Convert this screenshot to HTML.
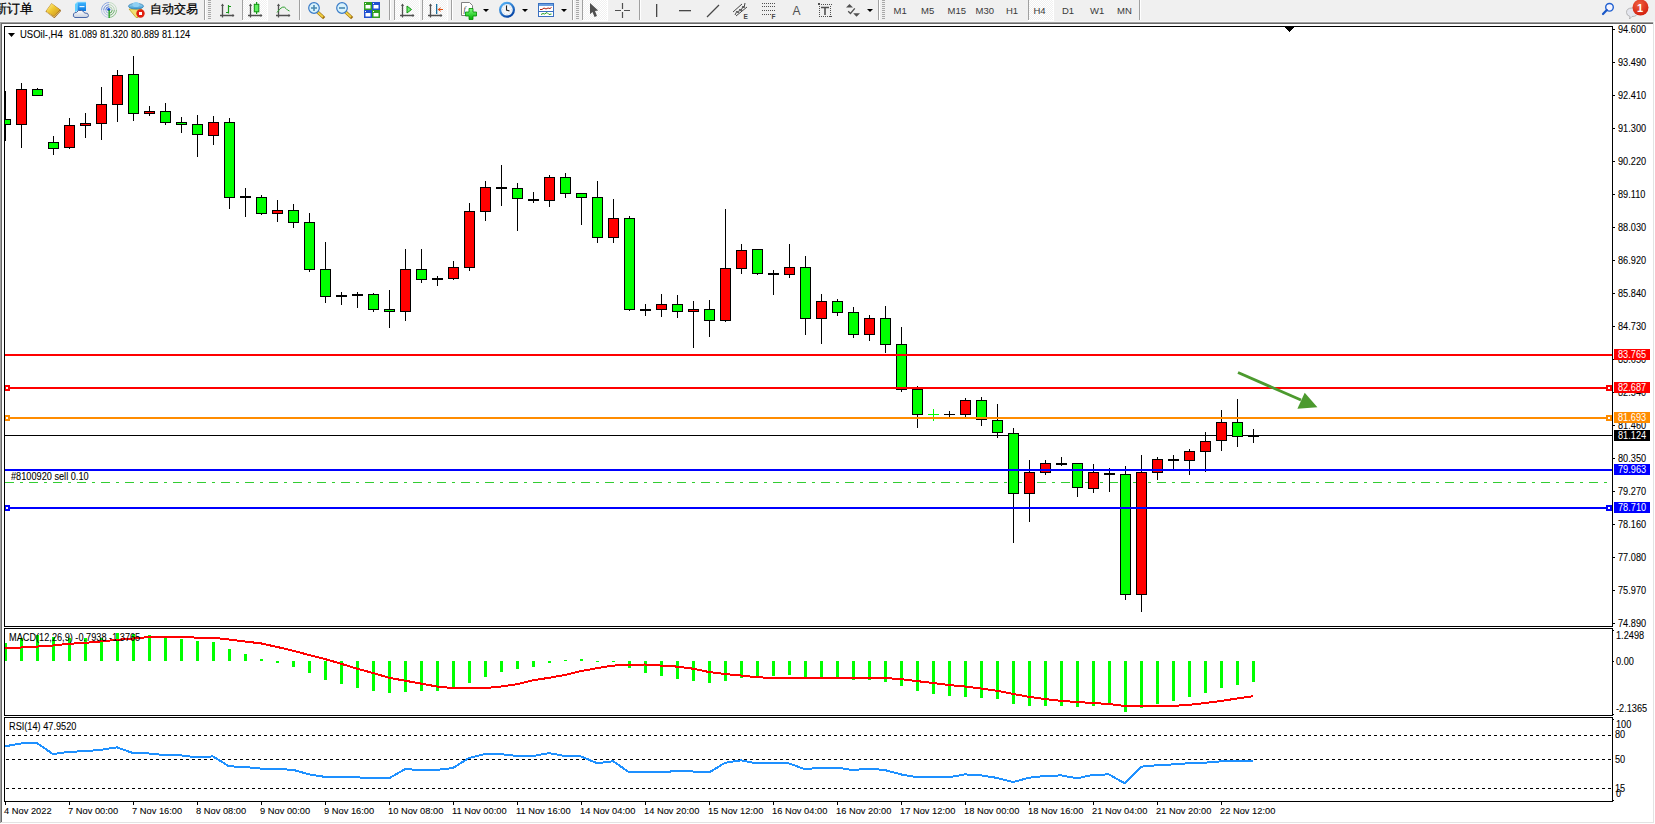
<!DOCTYPE html>
<html><head><meta charset="utf-8"><style>
html,body{margin:0;padding:0;width:1655px;height:824px;overflow:hidden;background:#f0f0f0;position:relative;font-family:'Liberation Sans',sans-serif;}
</style></head><body>
<svg width="1655" height="22" style="position:absolute;left:0;top:0"><defs><pattern id="chk" width="2" height="2" patternUnits="userSpaceOnUse"><rect width="2" height="2" fill="#f0f0f0"/><rect width="1" height="1" fill="#fff"/><rect x="1" y="1" width="1" height="1" fill="#fff"/></pattern><linearGradient id="gold" x1="0" y1="0" x2="1" y2="1"><stop offset="0" stop-color="#fff4a8"/><stop offset="0.45" stop-color="#f0c830"/><stop offset="1" stop-color="#c89020"/></linearGradient><linearGradient id="cube" x1="0" y1="0" x2="0" y2="1"><stop offset="0" stop-color="#40b8ff"/><stop offset="1" stop-color="#0a78e0"/></linearGradient><linearGradient id="cloud" x1="0" y1="0" x2="0" y2="1"><stop offset="0" stop-color="#ffffff"/><stop offset="1" stop-color="#c8d0e0"/></linearGradient><linearGradient id="hat" x1="0" y1="0" x2="0" y2="1"><stop offset="0" stop-color="#a8dcf8"/><stop offset="1" stop-color="#3898d0"/></linearGradient><linearGradient id="plus" x1="0" y1="0" x2="0" y2="1"><stop offset="0" stop-color="#80ff80"/><stop offset="1" stop-color="#00b000"/></linearGradient><linearGradient id="clk" x1="0" y1="0" x2="0.6" y2="1"><stop offset="0" stop-color="#5ab8fa"/><stop offset="1" stop-color="#0848a8"/></linearGradient><radialGradient id="badge" cx="0.4" cy="0.3" r="0.8"><stop offset="0" stop-color="#f06040"/><stop offset="1" stop-color="#d01808"/></radialGradient></defs><rect width="1655" height="22" fill="#f0f0f0"/><rect y="21" width="1655" height="1" fill="#f7f7f7"/><text x="-6" y="13" font-size="13" fill="#000" stroke="#000" stroke-width="0.25" style="font-family:'Liberation Sans',sans-serif">新订单</text><path d="M45.5,11.5 Q48,8 51.5,3.2 L60.5,9.8 Q61.2,10.6 60.6,11.6 L55,17.6 Q54.3,18.2 53.4,17.6 Z" fill="#9a6010"/><path d="M46,11.2 Q48.5,7.8 51.6,3.6 L60,9.8 L54.2,16.2 Z" fill="url(#gold)"/><path d="M47,12.2 L54,17 L60.2,11" fill="none" stroke="#f0d890" stroke-width="0.7"/><path d="M75,4 L77.5,2 L77.5,11 L75,12 Z" fill="#60d0ff"/><path d="M77.5,2 L86,2 L86,11 L77.5,11 Z" fill="url(#cube)"/><path d="M75,4 L77.5,2 H86" fill="none" stroke="#b0e8ff" stroke-width="0.8"/><rect x="79.5" y="6" width="5" height="1.2" fill="#e8f6ff"/><path d="M75,17.5 Q72.5,17 73.5,14 Q74.5,12 76.5,12.5 Q78,9.5 81.5,10.5 Q84,11 84.5,13 Q88.5,12.5 88.5,15.5 Q88.5,17.5 86,17.5 Z" fill="url(#cloud)" stroke="#4a68a8" stroke-width="1"/><path d="M101.5,10 A7.5,7.5 0 0 1 109,2.5" fill="none" stroke="#3a6ad0" stroke-width="1" opacity="0.55"/><path d="M101.5,10 A7.5,7.5 0 0 0 109,17.5" fill="none" stroke="#6a8ad8" stroke-width="1" opacity="0.385"/><path d="M109,2.5 A7.5,7.5 0 0 1 116.5,10" fill="none" stroke="#7ab87a" stroke-width="1" opacity="0.385"/><path d="M116.5,10 A7.5,7.5 0 0 1 109,17.5" fill="none" stroke="#3a9a3a" stroke-width="1" opacity="0.55"/><path d="M103.7,10 A5.3,5.3 0 0 1 109,4.7" fill="none" stroke="#3a6ad0" stroke-width="1" opacity="0.7"/><path d="M103.7,10 A5.3,5.3 0 0 0 109,15.3" fill="none" stroke="#6a8ad8" stroke-width="1" opacity="0.48999999999999994"/><path d="M109,4.7 A5.3,5.3 0 0 1 114.3,10" fill="none" stroke="#7ab87a" stroke-width="1" opacity="0.48999999999999994"/><path d="M114.3,10 A5.3,5.3 0 0 1 109,15.3" fill="none" stroke="#3a9a3a" stroke-width="1" opacity="0.7"/><path d="M105.8,10 A3.2,3.2 0 0 1 109,6.8" fill="none" stroke="#3a6ad0" stroke-width="1" opacity="0.85"/><path d="M105.8,10 A3.2,3.2 0 0 0 109,13.2" fill="none" stroke="#6a8ad8" stroke-width="1" opacity="0.595"/><path d="M109,6.8 A3.2,3.2 0 0 1 112.2,10" fill="none" stroke="#7ab87a" stroke-width="1" opacity="0.595"/><path d="M112.2,10 A3.2,3.2 0 0 1 109,13.2" fill="none" stroke="#3a9a3a" stroke-width="1" opacity="0.85"/><circle cx="108.8" cy="9.6" r="1.6" fill="#2050d0"/><rect x="108.5" y="10" width="1.3" height="8" fill="#20a020"/><path d="M129,9 L142,9 L138,17.5 L136,17.5 Z" fill="#f0e070" stroke="#c0a020" stroke-width="0.8"/><ellipse cx="136" cy="6.2" rx="7.5" ry="2.8" fill="url(#hat)" stroke="#3080b8" stroke-width="0.8"/><ellipse cx="136" cy="4.5" rx="3.5" ry="2.6" fill="#90d0f4"/><circle cx="140.5" cy="13.5" r="4.2" fill="#e02010"/><rect x="139" y="12" width="3" height="3" fill="#fff"/><text x="150" y="13" font-size="11.8" fill="#000" stroke="#000" stroke-width="0.25" style="font-family:'Liberation Sans',sans-serif">自动交易</text><rect x="204" y="0" width="1" height="20" fill="#a0a0a0"/><rect x="205" y="0" width="1" height="20" fill="#ffffff"/><rect x="208" y="0" width="3" height="1" fill="#a8a8a8"/><rect x="208" y="2" width="3" height="1" fill="#a8a8a8"/><rect x="208" y="4" width="3" height="1" fill="#a8a8a8"/><rect x="208" y="6" width="3" height="1" fill="#a8a8a8"/><rect x="208" y="8" width="3" height="1" fill="#a8a8a8"/><rect x="208" y="10" width="3" height="1" fill="#a8a8a8"/><rect x="208" y="12" width="3" height="1" fill="#a8a8a8"/><rect x="208" y="14" width="3" height="1" fill="#a8a8a8"/><rect x="208" y="16" width="3" height="1" fill="#a8a8a8"/><rect x="208" y="18" width="3" height="1" fill="#a8a8a8"/><path d="M222.5,4.5 V17.5 M220,15.5 H234" stroke="#505050" stroke-width="1.3" fill="none"/><path d="M221,6 L222.5,3.5 L224,6 Z M232.5,14 L234.5,15.5 L232.5,17 Z" fill="#505050"/><path d="M228.5,5 V13.5 M228.5,6.5 H231 M226,12.5 H228.5" stroke="#1a9a1a" stroke-width="1.2" fill="none"/><rect x="242" y="0" width="1" height="20" fill="#a0a0a0"/><rect x="243" y="0" width="1" height="20" fill="#ffffff"/><rect x="242" y="0" width="1" height="20" fill="#a0a0a0"/><rect x="243" y="0" width="24" height="20" fill="url(#chk)"/><rect x="267" y="0" width="1" height="21" fill="#fff"/><rect x="242" y="20" width="26" height="1" fill="#fff"/><rect x="242" y="0" width="1" height="20" fill="#a0a0a0"/><path d="M250.5,4.5 V17.5 M248,15.5 H262" stroke="#505050" stroke-width="1.3" fill="none"/><path d="M249,6 L250.5,3.5 L252,6 Z M260.5,14 L262.5,15.5 L260.5,17 Z" fill="#505050"/><rect x="256" y="2" width="1.2" height="12" fill="#1a9a1a"/><rect x="254.3" y="4.3" width="4.5" height="7.5" fill="#60f060" stroke="#109010" stroke-width="1"/><path d="M278.5,4.5 V17.5 M276,15.5 H290" stroke="#505050" stroke-width="1.3" fill="none"/><path d="M277,6 L278.5,3.5 L280,6 Z M288.5,14 L290.5,15.5 L288.5,17 Z" fill="#505050"/><path d="M277,12.5 Q283,4 286,8.5 Q287.5,10.5 289.5,11" stroke="#30a030" stroke-width="1" fill="none"/><rect x="299" y="0" width="1" height="20" fill="#a0a0a0"/><rect x="300" y="0" width="1" height="20" fill="#ffffff"/><path d="M317.5,12 L323,17" stroke="#a07010" stroke-width="3.2" stroke-linecap="square"/><path d="M317.5,12 L323,17" stroke="#f0d040" stroke-width="1.8"/><circle cx="314" cy="8" r="5.3" fill="#d8f2fc" stroke="#3a7cc8" stroke-width="1.2"/><path d="M311,8 H317 M314,5 V11" stroke="#4a88b0" stroke-width="1.6"/><path d="M345.5,12 L351,17" stroke="#a07010" stroke-width="3.2" stroke-linecap="square"/><path d="M345.5,12 L351,17" stroke="#f0d040" stroke-width="1.8"/><circle cx="342" cy="8" r="5.3" fill="#d8f2fc" stroke="#3a7cc8" stroke-width="1.2"/><path d="M339,8 H345" stroke="#4a88b0" stroke-width="1.6"/><rect x="364" y="2" width="8" height="8" fill="#30a020"/><rect x="365.5" y="5" width="5" height="3.5" fill="#fff"/><rect x="365" y="3" width="1" height="1" fill="#fff"/><rect x="372" y="2" width="8" height="8" fill="#2050d0"/><rect x="373.5" y="5" width="5" height="3.5" fill="#fff"/><rect x="373" y="3" width="1" height="1" fill="#fff"/><rect x="364" y="10" width="8" height="8" fill="#2050d0"/><rect x="365.5" y="13" width="5" height="3.5" fill="#fff"/><rect x="365" y="11" width="1" height="1" fill="#fff"/><rect x="372" y="10" width="8" height="8" fill="#30a020"/><rect x="373.5" y="13" width="5" height="3.5" fill="#fff"/><rect x="373" y="11" width="1" height="1" fill="#fff"/><rect x="389" y="0" width="1" height="20" fill="#a0a0a0"/><rect x="390" y="0" width="1" height="20" fill="#ffffff"/><rect x="394" y="0" width="1" height="20" fill="#a0a0a0"/><rect x="395" y="0" width="24" height="20" fill="url(#chk)"/><rect x="419" y="0" width="1" height="21" fill="#fff"/><rect x="394" y="20" width="26" height="1" fill="#fff"/><path d="M402.5,4.5 V17.5 M400,15.5 H414" stroke="#505050" stroke-width="1.3" fill="none"/><path d="M401,6 L402.5,3.5 L404,6 Z M412.5,14 L414.5,15.5 L412.5,17 Z" fill="#505050"/><path d="M407,6 L411.5,9.5 L407,13 Z" fill="#70f070" stroke="#109010" stroke-width="1"/><rect x="422" y="0" width="1" height="20" fill="#a0a0a0"/><rect x="423" y="0" width="24" height="20" fill="url(#chk)"/><rect x="447" y="0" width="1" height="21" fill="#fff"/><rect x="422" y="20" width="26" height="1" fill="#fff"/><path d="M430.5,4.5 V17.5 M428,15.5 H442" stroke="#505050" stroke-width="1.3" fill="none"/><path d="M429,6 L430.5,3.5 L432,6 Z M440.5,14 L442.5,15.5 L440.5,17 Z" fill="#505050"/><rect x="436" y="4" width="1.3" height="10" fill="#1a70a0"/><path d="M437.5,9.5 L441,7 L440,9 H443 V10 H440 L441,12 Z" fill="#e05010"/><rect x="451" y="0" width="1" height="20" fill="#a0a0a0"/><rect x="452" y="0" width="1" height="20" fill="#ffffff"/><path d="M461.5,2.5 H469.5 L472.5,5.5 V15.5 H461.5 Z" fill="#fff" stroke="#808080" stroke-width="1"/><text x="463.5" y="12" font-size="8" fill="#404040" style="font-family:'Liberation Serif',serif;font-style:italic">f</text><path d="M469,8.5 H473 V12 H476.5 V16 H473 V19.5 H469 V16 H465.5 V12 H469 Z" fill="url(#plus)" stroke="#008a00" stroke-width="0.8"/><path d="M483,9 h6 l-3,3 z" fill="#000"/><circle cx="507" cy="9.8" r="6.9" fill="#f2f6fa" stroke="url(#clk)" stroke-width="2.2"/><circle cx="507.00" cy="5.20" r="0.35" fill="#9098a8"/><circle cx="509.30" cy="5.82" r="0.35" fill="#9098a8"/><circle cx="510.98" cy="7.50" r="0.35" fill="#9098a8"/><circle cx="511.60" cy="9.80" r="0.35" fill="#9098a8"/><circle cx="510.98" cy="12.10" r="0.35" fill="#9098a8"/><circle cx="509.30" cy="13.78" r="0.35" fill="#9098a8"/><circle cx="507.00" cy="14.40" r="0.35" fill="#9098a8"/><circle cx="504.70" cy="13.78" r="0.35" fill="#9098a8"/><circle cx="503.02" cy="12.10" r="0.35" fill="#9098a8"/><circle cx="502.40" cy="9.80" r="0.35" fill="#9098a8"/><circle cx="503.02" cy="7.50" r="0.35" fill="#9098a8"/><circle cx="504.70" cy="5.82" r="0.35" fill="#9098a8"/><path d="M506.5,5.5 V10 L509.5,11" stroke="#202020" stroke-width="1.1" fill="none"/><path d="M522,9 h6 l-3,3 z" fill="#000"/><rect x="538.5" y="3.5" width="15" height="13" fill="#fff" stroke="#3a70c0" stroke-width="1"/><rect x="539" y="4" width="14" height="2" fill="#6aa0e0"/><rect x="539" y="11" width="14" height="1" fill="#3a70c0"/><path d="M540,9.5 L542,9.5 L544,8 L546,9 L548,8 L550,8.5 L551.5,7.5" stroke="#b02010" stroke-width="1" fill="none"/><path d="M541,14.5 L543,13.5 L544.5,14 L547,12.5 L549,14.5 L551.5,14" stroke="#20a020" stroke-width="1" fill="none"/><path d="M561,9 h6 l-3,3 z" fill="#000"/><rect x="572" y="0" width="1" height="20" fill="#a0a0a0"/><rect x="573" y="0" width="1" height="20" fill="#ffffff"/><rect x="576" y="0" width="3" height="1" fill="#a8a8a8"/><rect x="576" y="2" width="3" height="1" fill="#a8a8a8"/><rect x="576" y="4" width="3" height="1" fill="#a8a8a8"/><rect x="576" y="6" width="3" height="1" fill="#a8a8a8"/><rect x="576" y="8" width="3" height="1" fill="#a8a8a8"/><rect x="576" y="10" width="3" height="1" fill="#a8a8a8"/><rect x="576" y="12" width="3" height="1" fill="#a8a8a8"/><rect x="576" y="14" width="3" height="1" fill="#a8a8a8"/><rect x="576" y="16" width="3" height="1" fill="#a8a8a8"/><rect x="576" y="18" width="3" height="1" fill="#a8a8a8"/><rect x="582" y="0" width="1" height="20" fill="#a0a0a0"/><rect x="583" y="0" width="24" height="20" fill="url(#chk)"/><rect x="607" y="0" width="1" height="21" fill="#fff"/><rect x="582" y="20" width="26" height="1" fill="#fff"/><path d="M590,3 L598.2,10.6 L595,11 L597,16 L594.5,17 L592.5,12 L590,14.2 Z" fill="#505050"/><path d="M615,10.5 H621 M624,10.5 H630 M622.5,3 V9 M622.5,12 V18" stroke="#505050" stroke-width="1.2"/><rect x="639" y="0" width="1" height="20" fill="#a0a0a0"/><rect x="640" y="0" width="1" height="20" fill="#ffffff"/><rect x="656" y="4" width="1.3" height="13" fill="#474747"/><rect x="679" y="10" width="12" height="1.3" fill="#474747"/><path d="M707,17 L719,5" stroke="#474747" stroke-width="1.2"/><path d="M733,12 L742,4 M736,16 L747,7 M735,15 L737,11 L738,13 L740,9 L741,11 L743,6 L744,8 L745,3" stroke="#474747" stroke-width="1" fill="none"/><text x="743.5" y="19" font-size="6.5" font-weight="bold" fill="#474747" style="font-family:'Liberation Sans',sans-serif">E</text><rect x="762" y="3" width="1" height="1" fill="#505050"/><rect x="764" y="3" width="1" height="1" fill="#505050"/><rect x="766" y="3" width="1" height="1" fill="#505050"/><rect x="768" y="3" width="1" height="1" fill="#505050"/><rect x="770" y="3" width="1" height="1" fill="#505050"/><rect x="772" y="3" width="1" height="1" fill="#505050"/><rect x="774" y="3" width="1" height="1" fill="#505050"/><rect x="762" y="6" width="1" height="1" fill="#505050"/><rect x="764" y="6" width="1" height="1" fill="#505050"/><rect x="766" y="6" width="1" height="1" fill="#505050"/><rect x="768" y="6" width="1" height="1" fill="#505050"/><rect x="770" y="6" width="1" height="1" fill="#505050"/><rect x="772" y="6" width="1" height="1" fill="#505050"/><rect x="774" y="6" width="1" height="1" fill="#505050"/><rect x="762" y="10" width="1" height="1" fill="#505050"/><rect x="764" y="10" width="1" height="1" fill="#505050"/><rect x="766" y="10" width="1" height="1" fill="#505050"/><rect x="768" y="10" width="1" height="1" fill="#505050"/><rect x="770" y="10" width="1" height="1" fill="#505050"/><rect x="772" y="10" width="1" height="1" fill="#505050"/><rect x="774" y="10" width="1" height="1" fill="#505050"/><rect x="762" y="14" width="1" height="1" fill="#505050"/><rect x="764" y="14" width="1" height="1" fill="#505050"/><rect x="766" y="14" width="1" height="1" fill="#505050"/><rect x="768" y="14" width="1" height="1" fill="#505050"/><rect x="770" y="14" width="1" height="1" fill="#505050"/><text x="771.5" y="19" font-size="6.5" font-weight="bold" fill="#474747" style="font-family:'Liberation Sans',sans-serif">F</text><text x="792.5" y="15" font-size="12" fill="#505050" style="font-family:'Liberation Sans',sans-serif">A</text><rect x="819" y="4" width="1" height="1" fill="#505050"/><rect x="819" y="16" width="1" height="1" fill="#505050"/><rect x="821" y="4" width="1" height="1" fill="#505050"/><rect x="821" y="16" width="1" height="1" fill="#505050"/><rect x="823" y="4" width="1" height="1" fill="#505050"/><rect x="823" y="16" width="1" height="1" fill="#505050"/><rect x="825" y="4" width="1" height="1" fill="#505050"/><rect x="825" y="16" width="1" height="1" fill="#505050"/><rect x="827" y="4" width="1" height="1" fill="#505050"/><rect x="827" y="16" width="1" height="1" fill="#505050"/><rect x="829" y="4" width="1" height="1" fill="#505050"/><rect x="829" y="16" width="1" height="1" fill="#505050"/><rect x="831" y="4" width="1" height="1" fill="#505050"/><rect x="831" y="16" width="1" height="1" fill="#505050"/><rect x="819" y="6" width="1" height="1" fill="#505050"/><rect x="830" y="6" width="1" height="1" fill="#505050"/><rect x="819" y="8" width="1" height="1" fill="#505050"/><rect x="830" y="8" width="1" height="1" fill="#505050"/><rect x="819" y="10" width="1" height="1" fill="#505050"/><rect x="830" y="10" width="1" height="1" fill="#505050"/><rect x="819" y="12" width="1" height="1" fill="#505050"/><rect x="830" y="12" width="1" height="1" fill="#505050"/><rect x="819" y="14" width="1" height="1" fill="#505050"/><rect x="830" y="14" width="1" height="1" fill="#505050"/><rect x="819" y="16" width="1" height="1" fill="#505050"/><rect x="830" y="16" width="1" height="1" fill="#505050"/><rect x="818" y="3" width="2" height="2" fill="#505050"/><path d="M821,7.5 H829 M825,7.5 V15" stroke="#505050" stroke-width="1.6"/><path d="M849.5,4 L853,7.5 L846,7.5 Z M853.2,13.3 L860,13.3 L856.5,16.7 Z" fill="#505050"/><path d="M848.2,11.2 L850.5,13.5 L854.8,8.3" stroke="#505050" stroke-width="1.3" fill="none"/><path d="M867,9 h6 l-3,3 z" fill="#000"/><rect x="878" y="0" width="1" height="20" fill="#a0a0a0"/><rect x="879" y="0" width="1" height="20" fill="#ffffff"/><rect x="882" y="0" width="3" height="1" fill="#a8a8a8"/><rect x="882" y="2" width="3" height="1" fill="#a8a8a8"/><rect x="882" y="4" width="3" height="1" fill="#a8a8a8"/><rect x="882" y="6" width="3" height="1" fill="#a8a8a8"/><rect x="882" y="8" width="3" height="1" fill="#a8a8a8"/><rect x="882" y="10" width="3" height="1" fill="#a8a8a8"/><rect x="882" y="12" width="3" height="1" fill="#a8a8a8"/><rect x="882" y="14" width="3" height="1" fill="#a8a8a8"/><rect x="882" y="16" width="3" height="1" fill="#a8a8a8"/><rect x="882" y="18" width="3" height="1" fill="#a8a8a8"/><rect x="1028" y="0" width="1" height="20" fill="#a0a0a0"/><rect x="1029" y="0" width="24" height="20" fill="url(#chk)"/><rect x="1053" y="0" width="1" height="21" fill="#fff"/><rect x="1028" y="20" width="26" height="1" fill="#fff"/><text x="893.5" y="13.5" font-size="9.5" fill="#3a3a3a" style="font-family:'Liberation Sans',sans-serif">M1</text><text x="921" y="13.5" font-size="9.5" fill="#3a3a3a" style="font-family:'Liberation Sans',sans-serif">M5</text><text x="947.5" y="13.5" font-size="9.5" fill="#3a3a3a" style="font-family:'Liberation Sans',sans-serif">M15</text><text x="975.5" y="13.5" font-size="9.5" fill="#3a3a3a" style="font-family:'Liberation Sans',sans-serif">M30</text><text x="1006" y="13.5" font-size="9.5" fill="#3a3a3a" style="font-family:'Liberation Sans',sans-serif">H1</text><text x="1033.5" y="13.5" font-size="9.5" fill="#3a3a3a" style="font-family:'Liberation Sans',sans-serif">H4</text><text x="1062" y="13.5" font-size="9.5" fill="#3a3a3a" style="font-family:'Liberation Sans',sans-serif">D1</text><text x="1090" y="13.5" font-size="9.5" fill="#3a3a3a" style="font-family:'Liberation Sans',sans-serif">W1</text><text x="1117" y="13.5" font-size="9.5" fill="#3a3a3a" style="font-family:'Liberation Sans',sans-serif">MN</text><rect x="1139" y="0" width="1" height="20" fill="#a0a0a0"/><rect x="1140" y="0" width="1" height="20" fill="#ffffff"/><circle cx="1609.5" cy="7.3" r="3.8" fill="#f4f4ff" stroke="#2060d0" stroke-width="1.4"/><path d="M1606.8,10 L1603,14" stroke="#1a58c8" stroke-width="2.2" stroke-linecap="round"/><path d="M1631,17.5 L1629.5,19 L1630,16.5 Q1626.5,15.5 1626.5,12.5 Q1626.5,8 1632,8 Q1637.5,8 1637.5,12.5 Q1637.5,16.5 1632,16.5 Z" fill="#e4e6ee" stroke="#a8a8a8" stroke-width="0.8"/><circle cx="1640.5" cy="7.5" r="8" fill="url(#badge)"/><text x="1637" y="12" font-size="11" font-weight="bold" fill="#fff" style="font-family:'Liberation Sans',sans-serif">1</text></svg><svg width="1655" height="824" style="position:absolute;left:0;top:0" shape-rendering="crispEdges"><rect x="0" y="22" width="1655" height="1" fill="#a0a0a0"/><rect x="0" y="23" width="1654" height="1" fill="#696969"/><rect x="0" y="22" width="1" height="802" fill="#a0a0a0"/><rect x="1" y="23" width="1" height="800" fill="#696969"/><rect x="1653" y="22" width="1" height="801" fill="#e3e3e3"/><rect x="1" y="822" width="1653" height="1" fill="#e3e3e3"/><rect x="2" y="24" width="1651" height="798" fill="#ffffff"/><rect x="1654" y="22" width="1" height="802" fill="#ffffff"/><rect x="0" y="823" width="1655" height="1" fill="#ffffff"/><defs><clipPath id="cm"><rect x="5" y="27" width="1607" height="599"/></clipPath><clipPath id="cmacd"><rect x="5" y="629" width="1607" height="86"/></clipPath><clipPath id="crsi"><rect x="5" y="718" width="1607" height="83"/></clipPath></defs><g clip-path="url(#cm)"><rect x="5" y="482" width="9" height="1" fill="#32cd32"/><rect x="20" y="482" width="3" height="1" fill="#32cd32"/><rect x="29" y="482" width="9" height="1" fill="#32cd32"/><rect x="44" y="482" width="3" height="1" fill="#32cd32"/><rect x="53" y="482" width="9" height="1" fill="#32cd32"/><rect x="68" y="482" width="3" height="1" fill="#32cd32"/><rect x="77" y="482" width="9" height="1" fill="#32cd32"/><rect x="92" y="482" width="3" height="1" fill="#32cd32"/><rect x="101" y="482" width="9" height="1" fill="#32cd32"/><rect x="116" y="482" width="3" height="1" fill="#32cd32"/><rect x="125" y="482" width="9" height="1" fill="#32cd32"/><rect x="140" y="482" width="3" height="1" fill="#32cd32"/><rect x="149" y="482" width="9" height="1" fill="#32cd32"/><rect x="164" y="482" width="3" height="1" fill="#32cd32"/><rect x="173" y="482" width="9" height="1" fill="#32cd32"/><rect x="188" y="482" width="3" height="1" fill="#32cd32"/><rect x="197" y="482" width="9" height="1" fill="#32cd32"/><rect x="212" y="482" width="3" height="1" fill="#32cd32"/><rect x="221" y="482" width="9" height="1" fill="#32cd32"/><rect x="236" y="482" width="3" height="1" fill="#32cd32"/><rect x="245" y="482" width="9" height="1" fill="#32cd32"/><rect x="260" y="482" width="3" height="1" fill="#32cd32"/><rect x="269" y="482" width="9" height="1" fill="#32cd32"/><rect x="284" y="482" width="3" height="1" fill="#32cd32"/><rect x="293" y="482" width="9" height="1" fill="#32cd32"/><rect x="308" y="482" width="3" height="1" fill="#32cd32"/><rect x="317" y="482" width="9" height="1" fill="#32cd32"/><rect x="332" y="482" width="3" height="1" fill="#32cd32"/><rect x="341" y="482" width="9" height="1" fill="#32cd32"/><rect x="356" y="482" width="3" height="1" fill="#32cd32"/><rect x="365" y="482" width="9" height="1" fill="#32cd32"/><rect x="380" y="482" width="3" height="1" fill="#32cd32"/><rect x="389" y="482" width="9" height="1" fill="#32cd32"/><rect x="404" y="482" width="3" height="1" fill="#32cd32"/><rect x="413" y="482" width="9" height="1" fill="#32cd32"/><rect x="428" y="482" width="3" height="1" fill="#32cd32"/><rect x="437" y="482" width="9" height="1" fill="#32cd32"/><rect x="452" y="482" width="3" height="1" fill="#32cd32"/><rect x="461" y="482" width="9" height="1" fill="#32cd32"/><rect x="476" y="482" width="3" height="1" fill="#32cd32"/><rect x="485" y="482" width="9" height="1" fill="#32cd32"/><rect x="500" y="482" width="3" height="1" fill="#32cd32"/><rect x="509" y="482" width="9" height="1" fill="#32cd32"/><rect x="524" y="482" width="3" height="1" fill="#32cd32"/><rect x="533" y="482" width="9" height="1" fill="#32cd32"/><rect x="548" y="482" width="3" height="1" fill="#32cd32"/><rect x="557" y="482" width="9" height="1" fill="#32cd32"/><rect x="572" y="482" width="3" height="1" fill="#32cd32"/><rect x="581" y="482" width="9" height="1" fill="#32cd32"/><rect x="596" y="482" width="3" height="1" fill="#32cd32"/><rect x="605" y="482" width="9" height="1" fill="#32cd32"/><rect x="620" y="482" width="3" height="1" fill="#32cd32"/><rect x="629" y="482" width="9" height="1" fill="#32cd32"/><rect x="644" y="482" width="3" height="1" fill="#32cd32"/><rect x="653" y="482" width="9" height="1" fill="#32cd32"/><rect x="668" y="482" width="3" height="1" fill="#32cd32"/><rect x="677" y="482" width="9" height="1" fill="#32cd32"/><rect x="692" y="482" width="3" height="1" fill="#32cd32"/><rect x="701" y="482" width="9" height="1" fill="#32cd32"/><rect x="716" y="482" width="3" height="1" fill="#32cd32"/><rect x="725" y="482" width="9" height="1" fill="#32cd32"/><rect x="740" y="482" width="3" height="1" fill="#32cd32"/><rect x="749" y="482" width="9" height="1" fill="#32cd32"/><rect x="764" y="482" width="3" height="1" fill="#32cd32"/><rect x="773" y="482" width="9" height="1" fill="#32cd32"/><rect x="788" y="482" width="3" height="1" fill="#32cd32"/><rect x="797" y="482" width="9" height="1" fill="#32cd32"/><rect x="812" y="482" width="3" height="1" fill="#32cd32"/><rect x="821" y="482" width="9" height="1" fill="#32cd32"/><rect x="836" y="482" width="3" height="1" fill="#32cd32"/><rect x="845" y="482" width="9" height="1" fill="#32cd32"/><rect x="860" y="482" width="3" height="1" fill="#32cd32"/><rect x="869" y="482" width="9" height="1" fill="#32cd32"/><rect x="884" y="482" width="3" height="1" fill="#32cd32"/><rect x="893" y="482" width="9" height="1" fill="#32cd32"/><rect x="908" y="482" width="3" height="1" fill="#32cd32"/><rect x="917" y="482" width="9" height="1" fill="#32cd32"/><rect x="932" y="482" width="3" height="1" fill="#32cd32"/><rect x="941" y="482" width="9" height="1" fill="#32cd32"/><rect x="956" y="482" width="3" height="1" fill="#32cd32"/><rect x="965" y="482" width="9" height="1" fill="#32cd32"/><rect x="980" y="482" width="3" height="1" fill="#32cd32"/><rect x="989" y="482" width="9" height="1" fill="#32cd32"/><rect x="1004" y="482" width="3" height="1" fill="#32cd32"/><rect x="1013" y="482" width="9" height="1" fill="#32cd32"/><rect x="1028" y="482" width="3" height="1" fill="#32cd32"/><rect x="1037" y="482" width="9" height="1" fill="#32cd32"/><rect x="1052" y="482" width="3" height="1" fill="#32cd32"/><rect x="1061" y="482" width="9" height="1" fill="#32cd32"/><rect x="1076" y="482" width="3" height="1" fill="#32cd32"/><rect x="1085" y="482" width="9" height="1" fill="#32cd32"/><rect x="1100" y="482" width="3" height="1" fill="#32cd32"/><rect x="1109" y="482" width="9" height="1" fill="#32cd32"/><rect x="1124" y="482" width="3" height="1" fill="#32cd32"/><rect x="1133" y="482" width="9" height="1" fill="#32cd32"/><rect x="1148" y="482" width="3" height="1" fill="#32cd32"/><rect x="1157" y="482" width="9" height="1" fill="#32cd32"/><rect x="1172" y="482" width="3" height="1" fill="#32cd32"/><rect x="1181" y="482" width="9" height="1" fill="#32cd32"/><rect x="1196" y="482" width="3" height="1" fill="#32cd32"/><rect x="1205" y="482" width="9" height="1" fill="#32cd32"/><rect x="1220" y="482" width="3" height="1" fill="#32cd32"/><rect x="1229" y="482" width="9" height="1" fill="#32cd32"/><rect x="1244" y="482" width="3" height="1" fill="#32cd32"/><rect x="1253" y="482" width="9" height="1" fill="#32cd32"/><rect x="1268" y="482" width="3" height="1" fill="#32cd32"/><rect x="1277" y="482" width="9" height="1" fill="#32cd32"/><rect x="1292" y="482" width="3" height="1" fill="#32cd32"/><rect x="1301" y="482" width="9" height="1" fill="#32cd32"/><rect x="1316" y="482" width="3" height="1" fill="#32cd32"/><rect x="1325" y="482" width="9" height="1" fill="#32cd32"/><rect x="1340" y="482" width="3" height="1" fill="#32cd32"/><rect x="1349" y="482" width="9" height="1" fill="#32cd32"/><rect x="1364" y="482" width="3" height="1" fill="#32cd32"/><rect x="1373" y="482" width="9" height="1" fill="#32cd32"/><rect x="1388" y="482" width="3" height="1" fill="#32cd32"/><rect x="1397" y="482" width="9" height="1" fill="#32cd32"/><rect x="1412" y="482" width="3" height="1" fill="#32cd32"/><rect x="1421" y="482" width="9" height="1" fill="#32cd32"/><rect x="1436" y="482" width="3" height="1" fill="#32cd32"/><rect x="1445" y="482" width="9" height="1" fill="#32cd32"/><rect x="1460" y="482" width="3" height="1" fill="#32cd32"/><rect x="1469" y="482" width="9" height="1" fill="#32cd32"/><rect x="1484" y="482" width="3" height="1" fill="#32cd32"/><rect x="1493" y="482" width="9" height="1" fill="#32cd32"/><rect x="1508" y="482" width="3" height="1" fill="#32cd32"/><rect x="1517" y="482" width="9" height="1" fill="#32cd32"/><rect x="1532" y="482" width="3" height="1" fill="#32cd32"/><rect x="1541" y="482" width="9" height="1" fill="#32cd32"/><rect x="1556" y="482" width="3" height="1" fill="#32cd32"/><rect x="1565" y="482" width="9" height="1" fill="#32cd32"/><rect x="1580" y="482" width="3" height="1" fill="#32cd32"/><rect x="1589" y="482" width="9" height="1" fill="#32cd32"/><rect x="1604" y="482" width="3" height="1" fill="#32cd32"/><rect x="5" y="435" width="1607" height="1" fill="#000"/><rect x="5" y="91" width="1" height="50" fill="#000"/><rect x="0" y="119" width="11" height="6" fill="#000"/><rect x="1" y="120" width="9" height="4" fill="#00ff00"/><rect x="21" y="83" width="1" height="65" fill="#000"/><rect x="16" y="89" width="11" height="36" fill="#000"/><rect x="17" y="90" width="9" height="34" fill="#ff0000"/><rect x="37" y="88" width="1" height="8" fill="#000"/><rect x="32" y="89" width="11" height="7" fill="#000"/><rect x="33" y="90" width="9" height="5" fill="#00ff00"/><rect x="53" y="136" width="1" height="19" fill="#000"/><rect x="48" y="142" width="11" height="7" fill="#000"/><rect x="49" y="143" width="9" height="5" fill="#00ff00"/><rect x="69" y="118" width="1" height="31" fill="#000"/><rect x="64" y="125" width="11" height="23" fill="#000"/><rect x="65" y="126" width="9" height="21" fill="#ff0000"/><rect x="85" y="113" width="1" height="25" fill="#000"/><rect x="80" y="123" width="11" height="3" fill="#000"/><rect x="81" y="124" width="9" height="1" fill="#ff0000"/><rect x="101" y="87" width="1" height="53" fill="#000"/><rect x="96" y="104" width="11" height="20" fill="#000"/><rect x="97" y="105" width="9" height="18" fill="#ff0000"/><rect x="117" y="70" width="1" height="52" fill="#000"/><rect x="112" y="75" width="11" height="30" fill="#000"/><rect x="113" y="76" width="9" height="28" fill="#ff0000"/><rect x="133" y="56" width="1" height="65" fill="#000"/><rect x="128" y="74" width="11" height="40" fill="#000"/><rect x="129" y="75" width="9" height="38" fill="#00ff00"/><rect x="149" y="106" width="1" height="10" fill="#000"/><rect x="144" y="111" width="11" height="3" fill="#000"/><rect x="145" y="112" width="9" height="1" fill="#ff0000"/><rect x="165" y="103" width="1" height="22" fill="#000"/><rect x="160" y="111" width="11" height="12" fill="#000"/><rect x="161" y="112" width="9" height="10" fill="#00ff00"/><rect x="181" y="117" width="1" height="16" fill="#000"/><rect x="176" y="122" width="11" height="3" fill="#000"/><rect x="177" y="123" width="9" height="1" fill="#00ff00"/><rect x="197" y="115" width="1" height="42" fill="#000"/><rect x="192" y="124" width="11" height="11" fill="#000"/><rect x="193" y="125" width="9" height="9" fill="#00ff00"/><rect x="213" y="116" width="1" height="29" fill="#000"/><rect x="208" y="122" width="11" height="14" fill="#000"/><rect x="209" y="123" width="9" height="12" fill="#ff0000"/><rect x="229" y="118" width="1" height="91" fill="#000"/><rect x="224" y="122" width="11" height="76" fill="#000"/><rect x="225" y="123" width="9" height="74" fill="#00ff00"/><rect x="245" y="188" width="1" height="29" fill="#000"/><rect x="240" y="196" width="11" height="2" fill="#000"/><rect x="261" y="195" width="1" height="20" fill="#000"/><rect x="256" y="197" width="11" height="17" fill="#000"/><rect x="257" y="198" width="9" height="15" fill="#00ff00"/><rect x="277" y="200" width="1" height="22" fill="#000"/><rect x="272" y="210" width="11" height="4" fill="#000"/><rect x="273" y="211" width="9" height="2" fill="#ff0000"/><rect x="293" y="204" width="1" height="24" fill="#000"/><rect x="288" y="210" width="11" height="13" fill="#000"/><rect x="289" y="211" width="9" height="11" fill="#00ff00"/><rect x="309" y="213" width="1" height="59" fill="#000"/><rect x="304" y="222" width="11" height="48" fill="#000"/><rect x="305" y="223" width="9" height="46" fill="#00ff00"/><rect x="325" y="242" width="1" height="61" fill="#000"/><rect x="320" y="269" width="11" height="28" fill="#000"/><rect x="321" y="270" width="9" height="26" fill="#00ff00"/><rect x="341" y="292" width="1" height="13" fill="#000"/><rect x="336" y="295" width="11" height="2" fill="#000"/><rect x="357" y="292" width="1" height="16" fill="#000"/><rect x="352" y="294" width="11" height="2" fill="#000"/><rect x="373" y="293" width="1" height="19" fill="#000"/><rect x="368" y="294" width="11" height="16" fill="#000"/><rect x="369" y="295" width="9" height="14" fill="#00ff00"/><rect x="389" y="290" width="1" height="38" fill="#000"/><rect x="384" y="309" width="11" height="3" fill="#000"/><rect x="385" y="310" width="9" height="1" fill="#00ff00"/><rect x="405" y="249" width="1" height="72" fill="#000"/><rect x="400" y="269" width="11" height="43" fill="#000"/><rect x="401" y="270" width="9" height="41" fill="#ff0000"/><rect x="421" y="249" width="1" height="34" fill="#000"/><rect x="416" y="269" width="11" height="11" fill="#000"/><rect x="417" y="270" width="9" height="9" fill="#00ff00"/><rect x="437" y="276" width="1" height="10" fill="#000"/><rect x="432" y="278" width="11" height="2" fill="#000"/><rect x="453" y="261" width="1" height="19" fill="#000"/><rect x="448" y="267" width="11" height="12" fill="#000"/><rect x="449" y="268" width="9" height="10" fill="#ff0000"/><rect x="469" y="203" width="1" height="68" fill="#000"/><rect x="464" y="211" width="11" height="57" fill="#000"/><rect x="465" y="212" width="9" height="55" fill="#ff0000"/><rect x="485" y="181" width="1" height="40" fill="#000"/><rect x="480" y="187" width="11" height="25" fill="#000"/><rect x="481" y="188" width="9" height="23" fill="#ff0000"/><rect x="501" y="165" width="1" height="41" fill="#000"/><rect x="496" y="187" width="11" height="2" fill="#000"/><rect x="517" y="183" width="1" height="48" fill="#000"/><rect x="512" y="188" width="11" height="11" fill="#000"/><rect x="513" y="189" width="9" height="9" fill="#00ff00"/><rect x="533" y="192" width="1" height="11" fill="#000"/><rect x="528" y="199" width="11" height="2" fill="#000"/><rect x="549" y="175" width="1" height="32" fill="#000"/><rect x="544" y="177" width="11" height="24" fill="#000"/><rect x="545" y="178" width="9" height="22" fill="#ff0000"/><rect x="565" y="173" width="1" height="25" fill="#000"/><rect x="560" y="177" width="11" height="17" fill="#000"/><rect x="561" y="178" width="9" height="15" fill="#00ff00"/><rect x="581" y="193" width="1" height="32" fill="#000"/><rect x="576" y="193" width="11" height="5" fill="#000"/><rect x="577" y="194" width="9" height="3" fill="#00ff00"/><rect x="597" y="181" width="1" height="62" fill="#000"/><rect x="592" y="197" width="11" height="41" fill="#000"/><rect x="593" y="198" width="9" height="39" fill="#00ff00"/><rect x="613" y="199" width="1" height="44" fill="#000"/><rect x="608" y="218" width="11" height="20" fill="#000"/><rect x="609" y="219" width="9" height="18" fill="#ff0000"/><rect x="629" y="216" width="1" height="95" fill="#000"/><rect x="624" y="218" width="11" height="92" fill="#000"/><rect x="625" y="219" width="9" height="90" fill="#00ff00"/><rect x="645" y="304" width="1" height="12" fill="#000"/><rect x="640" y="309" width="11" height="2" fill="#000"/><rect x="661" y="294" width="1" height="23" fill="#000"/><rect x="656" y="304" width="11" height="6" fill="#000"/><rect x="657" y="305" width="9" height="4" fill="#ff0000"/><rect x="677" y="295" width="1" height="23" fill="#000"/><rect x="672" y="304" width="11" height="8" fill="#000"/><rect x="673" y="305" width="9" height="6" fill="#00ff00"/><rect x="693" y="301" width="1" height="47" fill="#000"/><rect x="688" y="309" width="11" height="3" fill="#000"/><rect x="689" y="310" width="9" height="1" fill="#ff0000"/><rect x="709" y="300" width="1" height="37" fill="#000"/><rect x="704" y="309" width="11" height="12" fill="#000"/><rect x="705" y="310" width="9" height="10" fill="#00ff00"/><rect x="725" y="209" width="1" height="113" fill="#000"/><rect x="720" y="268" width="11" height="53" fill="#000"/><rect x="721" y="269" width="9" height="51" fill="#ff0000"/><rect x="741" y="244" width="1" height="30" fill="#000"/><rect x="736" y="250" width="11" height="19" fill="#000"/><rect x="737" y="251" width="9" height="17" fill="#ff0000"/><rect x="757" y="249" width="1" height="26" fill="#000"/><rect x="752" y="249" width="11" height="25" fill="#000"/><rect x="753" y="250" width="9" height="23" fill="#00ff00"/><rect x="773" y="270" width="1" height="25" fill="#000"/><rect x="768" y="273" width="11" height="2" fill="#000"/><rect x="789" y="244" width="1" height="34" fill="#000"/><rect x="784" y="267" width="11" height="8" fill="#000"/><rect x="785" y="268" width="9" height="6" fill="#ff0000"/><rect x="805" y="256" width="1" height="79" fill="#000"/><rect x="800" y="267" width="11" height="52" fill="#000"/><rect x="801" y="268" width="9" height="50" fill="#00ff00"/><rect x="821" y="294" width="1" height="50" fill="#000"/><rect x="816" y="301" width="11" height="18" fill="#000"/><rect x="817" y="302" width="9" height="16" fill="#ff0000"/><rect x="837" y="299" width="1" height="17" fill="#000"/><rect x="832" y="301" width="11" height="12" fill="#000"/><rect x="833" y="302" width="9" height="10" fill="#00ff00"/><rect x="853" y="307" width="1" height="31" fill="#000"/><rect x="848" y="312" width="11" height="23" fill="#000"/><rect x="849" y="313" width="9" height="21" fill="#00ff00"/><rect x="869" y="315" width="1" height="26" fill="#000"/><rect x="864" y="318" width="11" height="17" fill="#000"/><rect x="865" y="319" width="9" height="15" fill="#ff0000"/><rect x="885" y="306" width="1" height="47" fill="#000"/><rect x="880" y="318" width="11" height="27" fill="#000"/><rect x="881" y="319" width="9" height="25" fill="#00ff00"/><rect x="901" y="327" width="1" height="65" fill="#000"/><rect x="896" y="344" width="11" height="46" fill="#000"/><rect x="897" y="345" width="9" height="44" fill="#00ff00"/><rect x="917" y="386" width="1" height="42" fill="#000"/><rect x="912" y="389" width="11" height="26" fill="#000"/><rect x="913" y="390" width="9" height="24" fill="#00ff00"/><rect x="933" y="409" width="1" height="12" fill="#00ff00"/><rect x="928" y="414" width="11" height="1" fill="#00ff00"/><rect x="949" y="411" width="1" height="6" fill="#000"/><rect x="944" y="414" width="11" height="1" fill="#000"/><rect x="965" y="398" width="1" height="20" fill="#000"/><rect x="960" y="400" width="11" height="15" fill="#000"/><rect x="961" y="401" width="9" height="13" fill="#ff0000"/><rect x="981" y="397" width="1" height="29" fill="#000"/><rect x="976" y="400" width="11" height="20" fill="#000"/><rect x="977" y="401" width="9" height="18" fill="#00ff00"/><rect x="997" y="404" width="1" height="34" fill="#000"/><rect x="992" y="420" width="11" height="13" fill="#000"/><rect x="993" y="421" width="9" height="11" fill="#00ff00"/><rect x="1013" y="428" width="1" height="115" fill="#000"/><rect x="1008" y="433" width="11" height="61" fill="#000"/><rect x="1009" y="434" width="9" height="59" fill="#00ff00"/><rect x="1029" y="460" width="1" height="62" fill="#000"/><rect x="1024" y="472" width="11" height="22" fill="#000"/><rect x="1025" y="473" width="9" height="20" fill="#ff0000"/><rect x="1045" y="460" width="1" height="15" fill="#000"/><rect x="1040" y="463" width="11" height="10" fill="#000"/><rect x="1041" y="464" width="9" height="8" fill="#ff0000"/><rect x="1061" y="457" width="1" height="9" fill="#000"/><rect x="1056" y="463" width="11" height="2" fill="#000"/><rect x="1077" y="463" width="1" height="34" fill="#000"/><rect x="1072" y="463" width="11" height="25" fill="#000"/><rect x="1073" y="464" width="9" height="23" fill="#00ff00"/><rect x="1093" y="464" width="1" height="29" fill="#000"/><rect x="1088" y="472" width="11" height="17" fill="#000"/><rect x="1089" y="473" width="9" height="15" fill="#ff0000"/><rect x="1109" y="468" width="1" height="24" fill="#000"/><rect x="1104" y="473" width="11" height="2" fill="#000"/><rect x="1125" y="466" width="1" height="134" fill="#000"/><rect x="1120" y="474" width="11" height="121" fill="#000"/><rect x="1121" y="475" width="9" height="119" fill="#00ff00"/><rect x="1141" y="455" width="1" height="157" fill="#000"/><rect x="1136" y="472" width="11" height="123" fill="#000"/><rect x="1137" y="473" width="9" height="121" fill="#ff0000"/><rect x="1157" y="457" width="1" height="23" fill="#000"/><rect x="1152" y="459" width="11" height="14" fill="#000"/><rect x="1153" y="460" width="9" height="12" fill="#ff0000"/><rect x="1173" y="455" width="1" height="14" fill="#000"/><rect x="1168" y="459" width="11" height="2" fill="#000"/><rect x="1189" y="449" width="1" height="26" fill="#000"/><rect x="1184" y="451" width="11" height="10" fill="#000"/><rect x="1185" y="452" width="9" height="8" fill="#ff0000"/><rect x="1205" y="432" width="1" height="40" fill="#000"/><rect x="1200" y="441" width="11" height="11" fill="#000"/><rect x="1201" y="442" width="9" height="9" fill="#ff0000"/><rect x="1221" y="410" width="1" height="41" fill="#000"/><rect x="1216" y="422" width="11" height="19" fill="#000"/><rect x="1217" y="423" width="9" height="17" fill="#ff0000"/><rect x="1237" y="399" width="1" height="48" fill="#000"/><rect x="1232" y="422" width="11" height="15" fill="#000"/><rect x="1233" y="423" width="9" height="13" fill="#00ff00"/><rect x="1253" y="429" width="1" height="14" fill="#000"/><rect x="1248" y="435" width="11" height="2" fill="#000"/><rect x="5" y="354" width="1607" height="2" fill="#ff0000"/><rect x="5" y="387" width="1607" height="2" fill="#ff0000"/><rect x="5" y="417" width="1607" height="2" fill="#ff8c00"/><rect x="5" y="469" width="1607" height="2" fill="#0000ff"/><rect x="5" y="507" width="1607" height="2" fill="#0000ff"/><rect x="4" y="385" width="6" height="6" fill="#ff0000"/><rect x="6" y="387" width="2" height="2" fill="#fff"/><rect x="1606" y="385" width="6" height="6" fill="#ff0000"/><rect x="1608" y="387" width="2" height="2" fill="#fff"/><rect x="4" y="415" width="6" height="6" fill="#ff8c00"/><rect x="6" y="417" width="2" height="2" fill="#fff"/><rect x="1606" y="415" width="6" height="6" fill="#ff8c00"/><rect x="1608" y="417" width="2" height="2" fill="#fff"/><rect x="4" y="505" width="6" height="6" fill="#0000ff"/><rect x="6" y="507" width="2" height="2" fill="#fff"/><rect x="1606" y="505" width="6" height="6" fill="#0000ff"/><rect x="1608" y="507" width="2" height="2" fill="#fff"/></g><rect x="4" y="26" width="1609" height="1" fill="#000"/><rect x="4" y="626" width="1609" height="1" fill="#000"/><rect x="4" y="26" width="1" height="601" fill="#000"/><rect x="1612" y="26" width="1" height="601" fill="#000"/><rect x="4" y="628" width="1609" height="1" fill="#000"/><rect x="4" y="715" width="1609" height="1" fill="#000"/><rect x="4" y="628" width="1" height="88" fill="#000"/><rect x="1612" y="628" width="1" height="88" fill="#000"/><rect x="4" y="717" width="1609" height="1" fill="#000"/><rect x="4" y="801" width="1609" height="1" fill="#000"/><rect x="4" y="717" width="1" height="85" fill="#000"/><rect x="1612" y="717" width="1" height="85" fill="#000"/><g clip-path="url(#cmacd)"><rect x="4" y="643" width="3" height="18" fill="#00ff00"/><rect x="20" y="638" width="3" height="23" fill="#00ff00"/><rect x="36" y="635" width="3" height="26" fill="#00ff00"/><rect x="52" y="637" width="3" height="24" fill="#00ff00"/><rect x="68" y="638" width="3" height="23" fill="#00ff00"/><rect x="84" y="638" width="3" height="23" fill="#00ff00"/><rect x="100" y="638" width="3" height="23" fill="#00ff00"/><rect x="116" y="633" width="3" height="28" fill="#00ff00"/><rect x="132" y="634" width="3" height="27" fill="#00ff00"/><rect x="148" y="635" width="3" height="26" fill="#00ff00"/><rect x="164" y="636" width="3" height="25" fill="#00ff00"/><rect x="180" y="639" width="3" height="22" fill="#00ff00"/><rect x="196" y="641" width="3" height="20" fill="#00ff00"/><rect x="212" y="642" width="3" height="19" fill="#00ff00"/><rect x="228" y="649" width="3" height="12" fill="#00ff00"/><rect x="244" y="654" width="3" height="7" fill="#00ff00"/><rect x="260" y="659" width="3" height="2" fill="#00ff00"/><rect x="276" y="661" width="3" height="2" fill="#00ff00"/><rect x="292" y="661" width="3" height="6" fill="#00ff00"/><rect x="308" y="661" width="3" height="12" fill="#00ff00"/><rect x="324" y="661" width="3" height="19" fill="#00ff00"/><rect x="340" y="661" width="3" height="23" fill="#00ff00"/><rect x="356" y="661" width="3" height="27" fill="#00ff00"/><rect x="372" y="661" width="3" height="30" fill="#00ff00"/><rect x="388" y="661" width="3" height="32" fill="#00ff00"/><rect x="404" y="661" width="3" height="31" fill="#00ff00"/><rect x="420" y="661" width="3" height="30" fill="#00ff00"/><rect x="436" y="661" width="3" height="30" fill="#00ff00"/><rect x="452" y="661" width="3" height="26" fill="#00ff00"/><rect x="468" y="661" width="3" height="22" fill="#00ff00"/><rect x="484" y="661" width="3" height="16" fill="#00ff00"/><rect x="500" y="661" width="3" height="11" fill="#00ff00"/><rect x="516" y="661" width="3" height="8" fill="#00ff00"/><rect x="532" y="661" width="3" height="6" fill="#00ff00"/><rect x="548" y="661" width="3" height="2" fill="#00ff00"/><rect x="564" y="660" width="3" height="1" fill="#00ff00"/><rect x="580" y="659" width="3" height="2" fill="#00ff00"/><rect x="596" y="661" width="3" height="1" fill="#00ff00"/><rect x="612" y="661" width="3" height="1" fill="#00ff00"/><rect x="628" y="661" width="3" height="7" fill="#00ff00"/><rect x="644" y="661" width="3" height="12" fill="#00ff00"/><rect x="660" y="661" width="3" height="15" fill="#00ff00"/><rect x="676" y="661" width="3" height="18" fill="#00ff00"/><rect x="692" y="661" width="3" height="20" fill="#00ff00"/><rect x="708" y="661" width="3" height="22" fill="#00ff00"/><rect x="724" y="661" width="3" height="20" fill="#00ff00"/><rect x="740" y="661" width="3" height="17" fill="#00ff00"/><rect x="756" y="661" width="3" height="15" fill="#00ff00"/><rect x="772" y="661" width="3" height="15" fill="#00ff00"/><rect x="788" y="661" width="3" height="14" fill="#00ff00"/><rect x="804" y="661" width="3" height="17" fill="#00ff00"/><rect x="820" y="661" width="3" height="17" fill="#00ff00"/><rect x="836" y="661" width="3" height="16" fill="#00ff00"/><rect x="852" y="661" width="3" height="19" fill="#00ff00"/><rect x="868" y="661" width="3" height="19" fill="#00ff00"/><rect x="884" y="661" width="3" height="21" fill="#00ff00"/><rect x="900" y="661" width="3" height="25" fill="#00ff00"/><rect x="916" y="661" width="3" height="30" fill="#00ff00"/><rect x="932" y="661" width="3" height="33" fill="#00ff00"/><rect x="948" y="661" width="3" height="35" fill="#00ff00"/><rect x="964" y="661" width="3" height="36" fill="#00ff00"/><rect x="980" y="661" width="3" height="37" fill="#00ff00"/><rect x="996" y="661" width="3" height="38" fill="#00ff00"/><rect x="1012" y="661" width="3" height="43" fill="#00ff00"/><rect x="1028" y="661" width="3" height="45" fill="#00ff00"/><rect x="1044" y="661" width="3" height="45" fill="#00ff00"/><rect x="1060" y="661" width="3" height="45" fill="#00ff00"/><rect x="1076" y="661" width="3" height="46" fill="#00ff00"/><rect x="1092" y="661" width="3" height="45" fill="#00ff00"/><rect x="1108" y="661" width="3" height="44" fill="#00ff00"/><rect x="1124" y="661" width="3" height="51" fill="#00ff00"/><rect x="1140" y="661" width="3" height="47" fill="#00ff00"/><rect x="1156" y="661" width="3" height="43" fill="#00ff00"/><rect x="1172" y="661" width="3" height="40" fill="#00ff00"/><rect x="1188" y="661" width="3" height="36" fill="#00ff00"/><rect x="1204" y="661" width="3" height="32" fill="#00ff00"/><rect x="1220" y="661" width="3" height="27" fill="#00ff00"/><rect x="1236" y="661" width="3" height="24" fill="#00ff00"/><rect x="1252" y="661" width="3" height="21" fill="#00ff00"/><polyline points="5,648.4 21,647.5 37,646.6 53,645.5 69,643.8 85,642.9 101,641.4 117,639.8 133,638.5 149,637.1 165,636.5 181,637.1 197,637.6 213,637.8 229,639.5 245,641.5 261,643.4 277,646.9 293,650.7 309,655.0 325,659.1 341,663.7 357,668.7 373,673.0 389,677.8 405,680.7 421,683.6 437,686.5 453,688.1 469,688.5 485,688.1 501,686.5 517,684.2 533,680.3 549,677.8 565,674.9 581,671.1 597,668.2 613,665.6 629,664.9 645,664.5 661,665.6 677,666.6 693,668.7 709,672.0 725,674.0 741,675.5 757,677.2 773,678.0 789,678.4 805,678.4 821,677.5 837,677.5 853,677.5 869,677.5 885,678.0 901,679.2 917,681.1 933,683.0 949,685.0 965,686.5 981,688.5 997,690.8 1013,693.9 1029,696.8 1045,699.1 1061,700.8 1077,702.0 1093,703.0 1109,704.0 1125,706.0 1141,706.0 1157,706.0 1173,705.9 1189,704.9 1205,703.0 1221,701.0 1237,698.5 1253,696.2" fill="none" stroke="#ff0000" stroke-width="2"/></g><g clip-path="url(#crsi)"><rect x="6" y="735" width="3" height="1" fill="#000"/><rect x="12" y="735" width="3" height="1" fill="#000"/><rect x="18" y="735" width="3" height="1" fill="#000"/><rect x="24" y="735" width="3" height="1" fill="#000"/><rect x="30" y="735" width="3" height="1" fill="#000"/><rect x="36" y="735" width="3" height="1" fill="#000"/><rect x="42" y="735" width="3" height="1" fill="#000"/><rect x="48" y="735" width="3" height="1" fill="#000"/><rect x="54" y="735" width="3" height="1" fill="#000"/><rect x="60" y="735" width="3" height="1" fill="#000"/><rect x="66" y="735" width="3" height="1" fill="#000"/><rect x="72" y="735" width="3" height="1" fill="#000"/><rect x="78" y="735" width="3" height="1" fill="#000"/><rect x="84" y="735" width="3" height="1" fill="#000"/><rect x="90" y="735" width="3" height="1" fill="#000"/><rect x="96" y="735" width="3" height="1" fill="#000"/><rect x="102" y="735" width="3" height="1" fill="#000"/><rect x="108" y="735" width="3" height="1" fill="#000"/><rect x="114" y="735" width="3" height="1" fill="#000"/><rect x="120" y="735" width="3" height="1" fill="#000"/><rect x="126" y="735" width="3" height="1" fill="#000"/><rect x="132" y="735" width="3" height="1" fill="#000"/><rect x="138" y="735" width="3" height="1" fill="#000"/><rect x="144" y="735" width="3" height="1" fill="#000"/><rect x="150" y="735" width="3" height="1" fill="#000"/><rect x="156" y="735" width="3" height="1" fill="#000"/><rect x="162" y="735" width="3" height="1" fill="#000"/><rect x="168" y="735" width="3" height="1" fill="#000"/><rect x="174" y="735" width="3" height="1" fill="#000"/><rect x="180" y="735" width="3" height="1" fill="#000"/><rect x="186" y="735" width="3" height="1" fill="#000"/><rect x="192" y="735" width="3" height="1" fill="#000"/><rect x="198" y="735" width="3" height="1" fill="#000"/><rect x="204" y="735" width="3" height="1" fill="#000"/><rect x="210" y="735" width="3" height="1" fill="#000"/><rect x="216" y="735" width="3" height="1" fill="#000"/><rect x="222" y="735" width="3" height="1" fill="#000"/><rect x="228" y="735" width="3" height="1" fill="#000"/><rect x="234" y="735" width="3" height="1" fill="#000"/><rect x="240" y="735" width="3" height="1" fill="#000"/><rect x="246" y="735" width="3" height="1" fill="#000"/><rect x="252" y="735" width="3" height="1" fill="#000"/><rect x="258" y="735" width="3" height="1" fill="#000"/><rect x="264" y="735" width="3" height="1" fill="#000"/><rect x="270" y="735" width="3" height="1" fill="#000"/><rect x="276" y="735" width="3" height="1" fill="#000"/><rect x="282" y="735" width="3" height="1" fill="#000"/><rect x="288" y="735" width="3" height="1" fill="#000"/><rect x="294" y="735" width="3" height="1" fill="#000"/><rect x="300" y="735" width="3" height="1" fill="#000"/><rect x="306" y="735" width="3" height="1" fill="#000"/><rect x="312" y="735" width="3" height="1" fill="#000"/><rect x="318" y="735" width="3" height="1" fill="#000"/><rect x="324" y="735" width="3" height="1" fill="#000"/><rect x="330" y="735" width="3" height="1" fill="#000"/><rect x="336" y="735" width="3" height="1" fill="#000"/><rect x="342" y="735" width="3" height="1" fill="#000"/><rect x="348" y="735" width="3" height="1" fill="#000"/><rect x="354" y="735" width="3" height="1" fill="#000"/><rect x="360" y="735" width="3" height="1" fill="#000"/><rect x="366" y="735" width="3" height="1" fill="#000"/><rect x="372" y="735" width="3" height="1" fill="#000"/><rect x="378" y="735" width="3" height="1" fill="#000"/><rect x="384" y="735" width="3" height="1" fill="#000"/><rect x="390" y="735" width="3" height="1" fill="#000"/><rect x="396" y="735" width="3" height="1" fill="#000"/><rect x="402" y="735" width="3" height="1" fill="#000"/><rect x="408" y="735" width="3" height="1" fill="#000"/><rect x="414" y="735" width="3" height="1" fill="#000"/><rect x="420" y="735" width="3" height="1" fill="#000"/><rect x="426" y="735" width="3" height="1" fill="#000"/><rect x="432" y="735" width="3" height="1" fill="#000"/><rect x="438" y="735" width="3" height="1" fill="#000"/><rect x="444" y="735" width="3" height="1" fill="#000"/><rect x="450" y="735" width="3" height="1" fill="#000"/><rect x="456" y="735" width="3" height="1" fill="#000"/><rect x="462" y="735" width="3" height="1" fill="#000"/><rect x="468" y="735" width="3" height="1" fill="#000"/><rect x="474" y="735" width="3" height="1" fill="#000"/><rect x="480" y="735" width="3" height="1" fill="#000"/><rect x="486" y="735" width="3" height="1" fill="#000"/><rect x="492" y="735" width="3" height="1" fill="#000"/><rect x="498" y="735" width="3" height="1" fill="#000"/><rect x="504" y="735" width="3" height="1" fill="#000"/><rect x="510" y="735" width="3" height="1" fill="#000"/><rect x="516" y="735" width="3" height="1" fill="#000"/><rect x="522" y="735" width="3" height="1" fill="#000"/><rect x="528" y="735" width="3" height="1" fill="#000"/><rect x="534" y="735" width="3" height="1" fill="#000"/><rect x="540" y="735" width="3" height="1" fill="#000"/><rect x="546" y="735" width="3" height="1" fill="#000"/><rect x="552" y="735" width="3" height="1" fill="#000"/><rect x="558" y="735" width="3" height="1" fill="#000"/><rect x="564" y="735" width="3" height="1" fill="#000"/><rect x="570" y="735" width="3" height="1" fill="#000"/><rect x="576" y="735" width="3" height="1" fill="#000"/><rect x="582" y="735" width="3" height="1" fill="#000"/><rect x="588" y="735" width="3" height="1" fill="#000"/><rect x="594" y="735" width="3" height="1" fill="#000"/><rect x="600" y="735" width="3" height="1" fill="#000"/><rect x="606" y="735" width="3" height="1" fill="#000"/><rect x="612" y="735" width="3" height="1" fill="#000"/><rect x="618" y="735" width="3" height="1" fill="#000"/><rect x="624" y="735" width="3" height="1" fill="#000"/><rect x="630" y="735" width="3" height="1" fill="#000"/><rect x="636" y="735" width="3" height="1" fill="#000"/><rect x="642" y="735" width="3" height="1" fill="#000"/><rect x="648" y="735" width="3" height="1" fill="#000"/><rect x="654" y="735" width="3" height="1" fill="#000"/><rect x="660" y="735" width="3" height="1" fill="#000"/><rect x="666" y="735" width="3" height="1" fill="#000"/><rect x="672" y="735" width="3" height="1" fill="#000"/><rect x="678" y="735" width="3" height="1" fill="#000"/><rect x="684" y="735" width="3" height="1" fill="#000"/><rect x="690" y="735" width="3" height="1" fill="#000"/><rect x="696" y="735" width="3" height="1" fill="#000"/><rect x="702" y="735" width="3" height="1" fill="#000"/><rect x="708" y="735" width="3" height="1" fill="#000"/><rect x="714" y="735" width="3" height="1" fill="#000"/><rect x="720" y="735" width="3" height="1" fill="#000"/><rect x="726" y="735" width="3" height="1" fill="#000"/><rect x="732" y="735" width="3" height="1" fill="#000"/><rect x="738" y="735" width="3" height="1" fill="#000"/><rect x="744" y="735" width="3" height="1" fill="#000"/><rect x="750" y="735" width="3" height="1" fill="#000"/><rect x="756" y="735" width="3" height="1" fill="#000"/><rect x="762" y="735" width="3" height="1" fill="#000"/><rect x="768" y="735" width="3" height="1" fill="#000"/><rect x="774" y="735" width="3" height="1" fill="#000"/><rect x="780" y="735" width="3" height="1" fill="#000"/><rect x="786" y="735" width="3" height="1" fill="#000"/><rect x="792" y="735" width="3" height="1" fill="#000"/><rect x="798" y="735" width="3" height="1" fill="#000"/><rect x="804" y="735" width="3" height="1" fill="#000"/><rect x="810" y="735" width="3" height="1" fill="#000"/><rect x="816" y="735" width="3" height="1" fill="#000"/><rect x="822" y="735" width="3" height="1" fill="#000"/><rect x="828" y="735" width="3" height="1" fill="#000"/><rect x="834" y="735" width="3" height="1" fill="#000"/><rect x="840" y="735" width="3" height="1" fill="#000"/><rect x="846" y="735" width="3" height="1" fill="#000"/><rect x="852" y="735" width="3" height="1" fill="#000"/><rect x="858" y="735" width="3" height="1" fill="#000"/><rect x="864" y="735" width="3" height="1" fill="#000"/><rect x="870" y="735" width="3" height="1" fill="#000"/><rect x="876" y="735" width="3" height="1" fill="#000"/><rect x="882" y="735" width="3" height="1" fill="#000"/><rect x="888" y="735" width="3" height="1" fill="#000"/><rect x="894" y="735" width="3" height="1" fill="#000"/><rect x="900" y="735" width="3" height="1" fill="#000"/><rect x="906" y="735" width="3" height="1" fill="#000"/><rect x="912" y="735" width="3" height="1" fill="#000"/><rect x="918" y="735" width="3" height="1" fill="#000"/><rect x="924" y="735" width="3" height="1" fill="#000"/><rect x="930" y="735" width="3" height="1" fill="#000"/><rect x="936" y="735" width="3" height="1" fill="#000"/><rect x="942" y="735" width="3" height="1" fill="#000"/><rect x="948" y="735" width="3" height="1" fill="#000"/><rect x="954" y="735" width="3" height="1" fill="#000"/><rect x="960" y="735" width="3" height="1" fill="#000"/><rect x="966" y="735" width="3" height="1" fill="#000"/><rect x="972" y="735" width="3" height="1" fill="#000"/><rect x="978" y="735" width="3" height="1" fill="#000"/><rect x="984" y="735" width="3" height="1" fill="#000"/><rect x="990" y="735" width="3" height="1" fill="#000"/><rect x="996" y="735" width="3" height="1" fill="#000"/><rect x="1002" y="735" width="3" height="1" fill="#000"/><rect x="1008" y="735" width="3" height="1" fill="#000"/><rect x="1014" y="735" width="3" height="1" fill="#000"/><rect x="1020" y="735" width="3" height="1" fill="#000"/><rect x="1026" y="735" width="3" height="1" fill="#000"/><rect x="1032" y="735" width="3" height="1" fill="#000"/><rect x="1038" y="735" width="3" height="1" fill="#000"/><rect x="1044" y="735" width="3" height="1" fill="#000"/><rect x="1050" y="735" width="3" height="1" fill="#000"/><rect x="1056" y="735" width="3" height="1" fill="#000"/><rect x="1062" y="735" width="3" height="1" fill="#000"/><rect x="1068" y="735" width="3" height="1" fill="#000"/><rect x="1074" y="735" width="3" height="1" fill="#000"/><rect x="1080" y="735" width="3" height="1" fill="#000"/><rect x="1086" y="735" width="3" height="1" fill="#000"/><rect x="1092" y="735" width="3" height="1" fill="#000"/><rect x="1098" y="735" width="3" height="1" fill="#000"/><rect x="1104" y="735" width="3" height="1" fill="#000"/><rect x="1110" y="735" width="3" height="1" fill="#000"/><rect x="1116" y="735" width="3" height="1" fill="#000"/><rect x="1122" y="735" width="3" height="1" fill="#000"/><rect x="1128" y="735" width="3" height="1" fill="#000"/><rect x="1134" y="735" width="3" height="1" fill="#000"/><rect x="1140" y="735" width="3" height="1" fill="#000"/><rect x="1146" y="735" width="3" height="1" fill="#000"/><rect x="1152" y="735" width="3" height="1" fill="#000"/><rect x="1158" y="735" width="3" height="1" fill="#000"/><rect x="1164" y="735" width="3" height="1" fill="#000"/><rect x="1170" y="735" width="3" height="1" fill="#000"/><rect x="1176" y="735" width="3" height="1" fill="#000"/><rect x="1182" y="735" width="3" height="1" fill="#000"/><rect x="1188" y="735" width="3" height="1" fill="#000"/><rect x="1194" y="735" width="3" height="1" fill="#000"/><rect x="1200" y="735" width="3" height="1" fill="#000"/><rect x="1206" y="735" width="3" height="1" fill="#000"/><rect x="1212" y="735" width="3" height="1" fill="#000"/><rect x="1218" y="735" width="3" height="1" fill="#000"/><rect x="1224" y="735" width="3" height="1" fill="#000"/><rect x="1230" y="735" width="3" height="1" fill="#000"/><rect x="1236" y="735" width="3" height="1" fill="#000"/><rect x="1242" y="735" width="3" height="1" fill="#000"/><rect x="1248" y="735" width="3" height="1" fill="#000"/><rect x="1254" y="735" width="3" height="1" fill="#000"/><rect x="1260" y="735" width="3" height="1" fill="#000"/><rect x="1266" y="735" width="3" height="1" fill="#000"/><rect x="1272" y="735" width="3" height="1" fill="#000"/><rect x="1278" y="735" width="3" height="1" fill="#000"/><rect x="1284" y="735" width="3" height="1" fill="#000"/><rect x="1290" y="735" width="3" height="1" fill="#000"/><rect x="1296" y="735" width="3" height="1" fill="#000"/><rect x="1302" y="735" width="3" height="1" fill="#000"/><rect x="1308" y="735" width="3" height="1" fill="#000"/><rect x="1314" y="735" width="3" height="1" fill="#000"/><rect x="1320" y="735" width="3" height="1" fill="#000"/><rect x="1326" y="735" width="3" height="1" fill="#000"/><rect x="1332" y="735" width="3" height="1" fill="#000"/><rect x="1338" y="735" width="3" height="1" fill="#000"/><rect x="1344" y="735" width="3" height="1" fill="#000"/><rect x="1350" y="735" width="3" height="1" fill="#000"/><rect x="1356" y="735" width="3" height="1" fill="#000"/><rect x="1362" y="735" width="3" height="1" fill="#000"/><rect x="1368" y="735" width="3" height="1" fill="#000"/><rect x="1374" y="735" width="3" height="1" fill="#000"/><rect x="1380" y="735" width="3" height="1" fill="#000"/><rect x="1386" y="735" width="3" height="1" fill="#000"/><rect x="1392" y="735" width="3" height="1" fill="#000"/><rect x="1398" y="735" width="3" height="1" fill="#000"/><rect x="1404" y="735" width="3" height="1" fill="#000"/><rect x="1410" y="735" width="3" height="1" fill="#000"/><rect x="1416" y="735" width="3" height="1" fill="#000"/><rect x="1422" y="735" width="3" height="1" fill="#000"/><rect x="1428" y="735" width="3" height="1" fill="#000"/><rect x="1434" y="735" width="3" height="1" fill="#000"/><rect x="1440" y="735" width="3" height="1" fill="#000"/><rect x="1446" y="735" width="3" height="1" fill="#000"/><rect x="1452" y="735" width="3" height="1" fill="#000"/><rect x="1458" y="735" width="3" height="1" fill="#000"/><rect x="1464" y="735" width="3" height="1" fill="#000"/><rect x="1470" y="735" width="3" height="1" fill="#000"/><rect x="1476" y="735" width="3" height="1" fill="#000"/><rect x="1482" y="735" width="3" height="1" fill="#000"/><rect x="1488" y="735" width="3" height="1" fill="#000"/><rect x="1494" y="735" width="3" height="1" fill="#000"/><rect x="1500" y="735" width="3" height="1" fill="#000"/><rect x="1506" y="735" width="3" height="1" fill="#000"/><rect x="1512" y="735" width="3" height="1" fill="#000"/><rect x="1518" y="735" width="3" height="1" fill="#000"/><rect x="1524" y="735" width="3" height="1" fill="#000"/><rect x="1530" y="735" width="3" height="1" fill="#000"/><rect x="1536" y="735" width="3" height="1" fill="#000"/><rect x="1542" y="735" width="3" height="1" fill="#000"/><rect x="1548" y="735" width="3" height="1" fill="#000"/><rect x="1554" y="735" width="3" height="1" fill="#000"/><rect x="1560" y="735" width="3" height="1" fill="#000"/><rect x="1566" y="735" width="3" height="1" fill="#000"/><rect x="1572" y="735" width="3" height="1" fill="#000"/><rect x="1578" y="735" width="3" height="1" fill="#000"/><rect x="1584" y="735" width="3" height="1" fill="#000"/><rect x="1590" y="735" width="3" height="1" fill="#000"/><rect x="1596" y="735" width="3" height="1" fill="#000"/><rect x="1602" y="735" width="3" height="1" fill="#000"/><rect x="1608" y="735" width="3" height="1" fill="#000"/><rect x="6" y="759" width="3" height="1" fill="#000"/><rect x="12" y="759" width="3" height="1" fill="#000"/><rect x="18" y="759" width="3" height="1" fill="#000"/><rect x="24" y="759" width="3" height="1" fill="#000"/><rect x="30" y="759" width="3" height="1" fill="#000"/><rect x="36" y="759" width="3" height="1" fill="#000"/><rect x="42" y="759" width="3" height="1" fill="#000"/><rect x="48" y="759" width="3" height="1" fill="#000"/><rect x="54" y="759" width="3" height="1" fill="#000"/><rect x="60" y="759" width="3" height="1" fill="#000"/><rect x="66" y="759" width="3" height="1" fill="#000"/><rect x="72" y="759" width="3" height="1" fill="#000"/><rect x="78" y="759" width="3" height="1" fill="#000"/><rect x="84" y="759" width="3" height="1" fill="#000"/><rect x="90" y="759" width="3" height="1" fill="#000"/><rect x="96" y="759" width="3" height="1" fill="#000"/><rect x="102" y="759" width="3" height="1" fill="#000"/><rect x="108" y="759" width="3" height="1" fill="#000"/><rect x="114" y="759" width="3" height="1" fill="#000"/><rect x="120" y="759" width="3" height="1" fill="#000"/><rect x="126" y="759" width="3" height="1" fill="#000"/><rect x="132" y="759" width="3" height="1" fill="#000"/><rect x="138" y="759" width="3" height="1" fill="#000"/><rect x="144" y="759" width="3" height="1" fill="#000"/><rect x="150" y="759" width="3" height="1" fill="#000"/><rect x="156" y="759" width="3" height="1" fill="#000"/><rect x="162" y="759" width="3" height="1" fill="#000"/><rect x="168" y="759" width="3" height="1" fill="#000"/><rect x="174" y="759" width="3" height="1" fill="#000"/><rect x="180" y="759" width="3" height="1" fill="#000"/><rect x="186" y="759" width="3" height="1" fill="#000"/><rect x="192" y="759" width="3" height="1" fill="#000"/><rect x="198" y="759" width="3" height="1" fill="#000"/><rect x="204" y="759" width="3" height="1" fill="#000"/><rect x="210" y="759" width="3" height="1" fill="#000"/><rect x="216" y="759" width="3" height="1" fill="#000"/><rect x="222" y="759" width="3" height="1" fill="#000"/><rect x="228" y="759" width="3" height="1" fill="#000"/><rect x="234" y="759" width="3" height="1" fill="#000"/><rect x="240" y="759" width="3" height="1" fill="#000"/><rect x="246" y="759" width="3" height="1" fill="#000"/><rect x="252" y="759" width="3" height="1" fill="#000"/><rect x="258" y="759" width="3" height="1" fill="#000"/><rect x="264" y="759" width="3" height="1" fill="#000"/><rect x="270" y="759" width="3" height="1" fill="#000"/><rect x="276" y="759" width="3" height="1" fill="#000"/><rect x="282" y="759" width="3" height="1" fill="#000"/><rect x="288" y="759" width="3" height="1" fill="#000"/><rect x="294" y="759" width="3" height="1" fill="#000"/><rect x="300" y="759" width="3" height="1" fill="#000"/><rect x="306" y="759" width="3" height="1" fill="#000"/><rect x="312" y="759" width="3" height="1" fill="#000"/><rect x="318" y="759" width="3" height="1" fill="#000"/><rect x="324" y="759" width="3" height="1" fill="#000"/><rect x="330" y="759" width="3" height="1" fill="#000"/><rect x="336" y="759" width="3" height="1" fill="#000"/><rect x="342" y="759" width="3" height="1" fill="#000"/><rect x="348" y="759" width="3" height="1" fill="#000"/><rect x="354" y="759" width="3" height="1" fill="#000"/><rect x="360" y="759" width="3" height="1" fill="#000"/><rect x="366" y="759" width="3" height="1" fill="#000"/><rect x="372" y="759" width="3" height="1" fill="#000"/><rect x="378" y="759" width="3" height="1" fill="#000"/><rect x="384" y="759" width="3" height="1" fill="#000"/><rect x="390" y="759" width="3" height="1" fill="#000"/><rect x="396" y="759" width="3" height="1" fill="#000"/><rect x="402" y="759" width="3" height="1" fill="#000"/><rect x="408" y="759" width="3" height="1" fill="#000"/><rect x="414" y="759" width="3" height="1" fill="#000"/><rect x="420" y="759" width="3" height="1" fill="#000"/><rect x="426" y="759" width="3" height="1" fill="#000"/><rect x="432" y="759" width="3" height="1" fill="#000"/><rect x="438" y="759" width="3" height="1" fill="#000"/><rect x="444" y="759" width="3" height="1" fill="#000"/><rect x="450" y="759" width="3" height="1" fill="#000"/><rect x="456" y="759" width="3" height="1" fill="#000"/><rect x="462" y="759" width="3" height="1" fill="#000"/><rect x="468" y="759" width="3" height="1" fill="#000"/><rect x="474" y="759" width="3" height="1" fill="#000"/><rect x="480" y="759" width="3" height="1" fill="#000"/><rect x="486" y="759" width="3" height="1" fill="#000"/><rect x="492" y="759" width="3" height="1" fill="#000"/><rect x="498" y="759" width="3" height="1" fill="#000"/><rect x="504" y="759" width="3" height="1" fill="#000"/><rect x="510" y="759" width="3" height="1" fill="#000"/><rect x="516" y="759" width="3" height="1" fill="#000"/><rect x="522" y="759" width="3" height="1" fill="#000"/><rect x="528" y="759" width="3" height="1" fill="#000"/><rect x="534" y="759" width="3" height="1" fill="#000"/><rect x="540" y="759" width="3" height="1" fill="#000"/><rect x="546" y="759" width="3" height="1" fill="#000"/><rect x="552" y="759" width="3" height="1" fill="#000"/><rect x="558" y="759" width="3" height="1" fill="#000"/><rect x="564" y="759" width="3" height="1" fill="#000"/><rect x="570" y="759" width="3" height="1" fill="#000"/><rect x="576" y="759" width="3" height="1" fill="#000"/><rect x="582" y="759" width="3" height="1" fill="#000"/><rect x="588" y="759" width="3" height="1" fill="#000"/><rect x="594" y="759" width="3" height="1" fill="#000"/><rect x="600" y="759" width="3" height="1" fill="#000"/><rect x="606" y="759" width="3" height="1" fill="#000"/><rect x="612" y="759" width="3" height="1" fill="#000"/><rect x="618" y="759" width="3" height="1" fill="#000"/><rect x="624" y="759" width="3" height="1" fill="#000"/><rect x="630" y="759" width="3" height="1" fill="#000"/><rect x="636" y="759" width="3" height="1" fill="#000"/><rect x="642" y="759" width="3" height="1" fill="#000"/><rect x="648" y="759" width="3" height="1" fill="#000"/><rect x="654" y="759" width="3" height="1" fill="#000"/><rect x="660" y="759" width="3" height="1" fill="#000"/><rect x="666" y="759" width="3" height="1" fill="#000"/><rect x="672" y="759" width="3" height="1" fill="#000"/><rect x="678" y="759" width="3" height="1" fill="#000"/><rect x="684" y="759" width="3" height="1" fill="#000"/><rect x="690" y="759" width="3" height="1" fill="#000"/><rect x="696" y="759" width="3" height="1" fill="#000"/><rect x="702" y="759" width="3" height="1" fill="#000"/><rect x="708" y="759" width="3" height="1" fill="#000"/><rect x="714" y="759" width="3" height="1" fill="#000"/><rect x="720" y="759" width="3" height="1" fill="#000"/><rect x="726" y="759" width="3" height="1" fill="#000"/><rect x="732" y="759" width="3" height="1" fill="#000"/><rect x="738" y="759" width="3" height="1" fill="#000"/><rect x="744" y="759" width="3" height="1" fill="#000"/><rect x="750" y="759" width="3" height="1" fill="#000"/><rect x="756" y="759" width="3" height="1" fill="#000"/><rect x="762" y="759" width="3" height="1" fill="#000"/><rect x="768" y="759" width="3" height="1" fill="#000"/><rect x="774" y="759" width="3" height="1" fill="#000"/><rect x="780" y="759" width="3" height="1" fill="#000"/><rect x="786" y="759" width="3" height="1" fill="#000"/><rect x="792" y="759" width="3" height="1" fill="#000"/><rect x="798" y="759" width="3" height="1" fill="#000"/><rect x="804" y="759" width="3" height="1" fill="#000"/><rect x="810" y="759" width="3" height="1" fill="#000"/><rect x="816" y="759" width="3" height="1" fill="#000"/><rect x="822" y="759" width="3" height="1" fill="#000"/><rect x="828" y="759" width="3" height="1" fill="#000"/><rect x="834" y="759" width="3" height="1" fill="#000"/><rect x="840" y="759" width="3" height="1" fill="#000"/><rect x="846" y="759" width="3" height="1" fill="#000"/><rect x="852" y="759" width="3" height="1" fill="#000"/><rect x="858" y="759" width="3" height="1" fill="#000"/><rect x="864" y="759" width="3" height="1" fill="#000"/><rect x="870" y="759" width="3" height="1" fill="#000"/><rect x="876" y="759" width="3" height="1" fill="#000"/><rect x="882" y="759" width="3" height="1" fill="#000"/><rect x="888" y="759" width="3" height="1" fill="#000"/><rect x="894" y="759" width="3" height="1" fill="#000"/><rect x="900" y="759" width="3" height="1" fill="#000"/><rect x="906" y="759" width="3" height="1" fill="#000"/><rect x="912" y="759" width="3" height="1" fill="#000"/><rect x="918" y="759" width="3" height="1" fill="#000"/><rect x="924" y="759" width="3" height="1" fill="#000"/><rect x="930" y="759" width="3" height="1" fill="#000"/><rect x="936" y="759" width="3" height="1" fill="#000"/><rect x="942" y="759" width="3" height="1" fill="#000"/><rect x="948" y="759" width="3" height="1" fill="#000"/><rect x="954" y="759" width="3" height="1" fill="#000"/><rect x="960" y="759" width="3" height="1" fill="#000"/><rect x="966" y="759" width="3" height="1" fill="#000"/><rect x="972" y="759" width="3" height="1" fill="#000"/><rect x="978" y="759" width="3" height="1" fill="#000"/><rect x="984" y="759" width="3" height="1" fill="#000"/><rect x="990" y="759" width="3" height="1" fill="#000"/><rect x="996" y="759" width="3" height="1" fill="#000"/><rect x="1002" y="759" width="3" height="1" fill="#000"/><rect x="1008" y="759" width="3" height="1" fill="#000"/><rect x="1014" y="759" width="3" height="1" fill="#000"/><rect x="1020" y="759" width="3" height="1" fill="#000"/><rect x="1026" y="759" width="3" height="1" fill="#000"/><rect x="1032" y="759" width="3" height="1" fill="#000"/><rect x="1038" y="759" width="3" height="1" fill="#000"/><rect x="1044" y="759" width="3" height="1" fill="#000"/><rect x="1050" y="759" width="3" height="1" fill="#000"/><rect x="1056" y="759" width="3" height="1" fill="#000"/><rect x="1062" y="759" width="3" height="1" fill="#000"/><rect x="1068" y="759" width="3" height="1" fill="#000"/><rect x="1074" y="759" width="3" height="1" fill="#000"/><rect x="1080" y="759" width="3" height="1" fill="#000"/><rect x="1086" y="759" width="3" height="1" fill="#000"/><rect x="1092" y="759" width="3" height="1" fill="#000"/><rect x="1098" y="759" width="3" height="1" fill="#000"/><rect x="1104" y="759" width="3" height="1" fill="#000"/><rect x="1110" y="759" width="3" height="1" fill="#000"/><rect x="1116" y="759" width="3" height="1" fill="#000"/><rect x="1122" y="759" width="3" height="1" fill="#000"/><rect x="1128" y="759" width="3" height="1" fill="#000"/><rect x="1134" y="759" width="3" height="1" fill="#000"/><rect x="1140" y="759" width="3" height="1" fill="#000"/><rect x="1146" y="759" width="3" height="1" fill="#000"/><rect x="1152" y="759" width="3" height="1" fill="#000"/><rect x="1158" y="759" width="3" height="1" fill="#000"/><rect x="1164" y="759" width="3" height="1" fill="#000"/><rect x="1170" y="759" width="3" height="1" fill="#000"/><rect x="1176" y="759" width="3" height="1" fill="#000"/><rect x="1182" y="759" width="3" height="1" fill="#000"/><rect x="1188" y="759" width="3" height="1" fill="#000"/><rect x="1194" y="759" width="3" height="1" fill="#000"/><rect x="1200" y="759" width="3" height="1" fill="#000"/><rect x="1206" y="759" width="3" height="1" fill="#000"/><rect x="1212" y="759" width="3" height="1" fill="#000"/><rect x="1218" y="759" width="3" height="1" fill="#000"/><rect x="1224" y="759" width="3" height="1" fill="#000"/><rect x="1230" y="759" width="3" height="1" fill="#000"/><rect x="1236" y="759" width="3" height="1" fill="#000"/><rect x="1242" y="759" width="3" height="1" fill="#000"/><rect x="1248" y="759" width="3" height="1" fill="#000"/><rect x="1254" y="759" width="3" height="1" fill="#000"/><rect x="1260" y="759" width="3" height="1" fill="#000"/><rect x="1266" y="759" width="3" height="1" fill="#000"/><rect x="1272" y="759" width="3" height="1" fill="#000"/><rect x="1278" y="759" width="3" height="1" fill="#000"/><rect x="1284" y="759" width="3" height="1" fill="#000"/><rect x="1290" y="759" width="3" height="1" fill="#000"/><rect x="1296" y="759" width="3" height="1" fill="#000"/><rect x="1302" y="759" width="3" height="1" fill="#000"/><rect x="1308" y="759" width="3" height="1" fill="#000"/><rect x="1314" y="759" width="3" height="1" fill="#000"/><rect x="1320" y="759" width="3" height="1" fill="#000"/><rect x="1326" y="759" width="3" height="1" fill="#000"/><rect x="1332" y="759" width="3" height="1" fill="#000"/><rect x="1338" y="759" width="3" height="1" fill="#000"/><rect x="1344" y="759" width="3" height="1" fill="#000"/><rect x="1350" y="759" width="3" height="1" fill="#000"/><rect x="1356" y="759" width="3" height="1" fill="#000"/><rect x="1362" y="759" width="3" height="1" fill="#000"/><rect x="1368" y="759" width="3" height="1" fill="#000"/><rect x="1374" y="759" width="3" height="1" fill="#000"/><rect x="1380" y="759" width="3" height="1" fill="#000"/><rect x="1386" y="759" width="3" height="1" fill="#000"/><rect x="1392" y="759" width="3" height="1" fill="#000"/><rect x="1398" y="759" width="3" height="1" fill="#000"/><rect x="1404" y="759" width="3" height="1" fill="#000"/><rect x="1410" y="759" width="3" height="1" fill="#000"/><rect x="1416" y="759" width="3" height="1" fill="#000"/><rect x="1422" y="759" width="3" height="1" fill="#000"/><rect x="1428" y="759" width="3" height="1" fill="#000"/><rect x="1434" y="759" width="3" height="1" fill="#000"/><rect x="1440" y="759" width="3" height="1" fill="#000"/><rect x="1446" y="759" width="3" height="1" fill="#000"/><rect x="1452" y="759" width="3" height="1" fill="#000"/><rect x="1458" y="759" width="3" height="1" fill="#000"/><rect x="1464" y="759" width="3" height="1" fill="#000"/><rect x="1470" y="759" width="3" height="1" fill="#000"/><rect x="1476" y="759" width="3" height="1" fill="#000"/><rect x="1482" y="759" width="3" height="1" fill="#000"/><rect x="1488" y="759" width="3" height="1" fill="#000"/><rect x="1494" y="759" width="3" height="1" fill="#000"/><rect x="1500" y="759" width="3" height="1" fill="#000"/><rect x="1506" y="759" width="3" height="1" fill="#000"/><rect x="1512" y="759" width="3" height="1" fill="#000"/><rect x="1518" y="759" width="3" height="1" fill="#000"/><rect x="1524" y="759" width="3" height="1" fill="#000"/><rect x="1530" y="759" width="3" height="1" fill="#000"/><rect x="1536" y="759" width="3" height="1" fill="#000"/><rect x="1542" y="759" width="3" height="1" fill="#000"/><rect x="1548" y="759" width="3" height="1" fill="#000"/><rect x="1554" y="759" width="3" height="1" fill="#000"/><rect x="1560" y="759" width="3" height="1" fill="#000"/><rect x="1566" y="759" width="3" height="1" fill="#000"/><rect x="1572" y="759" width="3" height="1" fill="#000"/><rect x="1578" y="759" width="3" height="1" fill="#000"/><rect x="1584" y="759" width="3" height="1" fill="#000"/><rect x="1590" y="759" width="3" height="1" fill="#000"/><rect x="1596" y="759" width="3" height="1" fill="#000"/><rect x="1602" y="759" width="3" height="1" fill="#000"/><rect x="1608" y="759" width="3" height="1" fill="#000"/><rect x="6" y="788" width="3" height="1" fill="#000"/><rect x="12" y="788" width="3" height="1" fill="#000"/><rect x="18" y="788" width="3" height="1" fill="#000"/><rect x="24" y="788" width="3" height="1" fill="#000"/><rect x="30" y="788" width="3" height="1" fill="#000"/><rect x="36" y="788" width="3" height="1" fill="#000"/><rect x="42" y="788" width="3" height="1" fill="#000"/><rect x="48" y="788" width="3" height="1" fill="#000"/><rect x="54" y="788" width="3" height="1" fill="#000"/><rect x="60" y="788" width="3" height="1" fill="#000"/><rect x="66" y="788" width="3" height="1" fill="#000"/><rect x="72" y="788" width="3" height="1" fill="#000"/><rect x="78" y="788" width="3" height="1" fill="#000"/><rect x="84" y="788" width="3" height="1" fill="#000"/><rect x="90" y="788" width="3" height="1" fill="#000"/><rect x="96" y="788" width="3" height="1" fill="#000"/><rect x="102" y="788" width="3" height="1" fill="#000"/><rect x="108" y="788" width="3" height="1" fill="#000"/><rect x="114" y="788" width="3" height="1" fill="#000"/><rect x="120" y="788" width="3" height="1" fill="#000"/><rect x="126" y="788" width="3" height="1" fill="#000"/><rect x="132" y="788" width="3" height="1" fill="#000"/><rect x="138" y="788" width="3" height="1" fill="#000"/><rect x="144" y="788" width="3" height="1" fill="#000"/><rect x="150" y="788" width="3" height="1" fill="#000"/><rect x="156" y="788" width="3" height="1" fill="#000"/><rect x="162" y="788" width="3" height="1" fill="#000"/><rect x="168" y="788" width="3" height="1" fill="#000"/><rect x="174" y="788" width="3" height="1" fill="#000"/><rect x="180" y="788" width="3" height="1" fill="#000"/><rect x="186" y="788" width="3" height="1" fill="#000"/><rect x="192" y="788" width="3" height="1" fill="#000"/><rect x="198" y="788" width="3" height="1" fill="#000"/><rect x="204" y="788" width="3" height="1" fill="#000"/><rect x="210" y="788" width="3" height="1" fill="#000"/><rect x="216" y="788" width="3" height="1" fill="#000"/><rect x="222" y="788" width="3" height="1" fill="#000"/><rect x="228" y="788" width="3" height="1" fill="#000"/><rect x="234" y="788" width="3" height="1" fill="#000"/><rect x="240" y="788" width="3" height="1" fill="#000"/><rect x="246" y="788" width="3" height="1" fill="#000"/><rect x="252" y="788" width="3" height="1" fill="#000"/><rect x="258" y="788" width="3" height="1" fill="#000"/><rect x="264" y="788" width="3" height="1" fill="#000"/><rect x="270" y="788" width="3" height="1" fill="#000"/><rect x="276" y="788" width="3" height="1" fill="#000"/><rect x="282" y="788" width="3" height="1" fill="#000"/><rect x="288" y="788" width="3" height="1" fill="#000"/><rect x="294" y="788" width="3" height="1" fill="#000"/><rect x="300" y="788" width="3" height="1" fill="#000"/><rect x="306" y="788" width="3" height="1" fill="#000"/><rect x="312" y="788" width="3" height="1" fill="#000"/><rect x="318" y="788" width="3" height="1" fill="#000"/><rect x="324" y="788" width="3" height="1" fill="#000"/><rect x="330" y="788" width="3" height="1" fill="#000"/><rect x="336" y="788" width="3" height="1" fill="#000"/><rect x="342" y="788" width="3" height="1" fill="#000"/><rect x="348" y="788" width="3" height="1" fill="#000"/><rect x="354" y="788" width="3" height="1" fill="#000"/><rect x="360" y="788" width="3" height="1" fill="#000"/><rect x="366" y="788" width="3" height="1" fill="#000"/><rect x="372" y="788" width="3" height="1" fill="#000"/><rect x="378" y="788" width="3" height="1" fill="#000"/><rect x="384" y="788" width="3" height="1" fill="#000"/><rect x="390" y="788" width="3" height="1" fill="#000"/><rect x="396" y="788" width="3" height="1" fill="#000"/><rect x="402" y="788" width="3" height="1" fill="#000"/><rect x="408" y="788" width="3" height="1" fill="#000"/><rect x="414" y="788" width="3" height="1" fill="#000"/><rect x="420" y="788" width="3" height="1" fill="#000"/><rect x="426" y="788" width="3" height="1" fill="#000"/><rect x="432" y="788" width="3" height="1" fill="#000"/><rect x="438" y="788" width="3" height="1" fill="#000"/><rect x="444" y="788" width="3" height="1" fill="#000"/><rect x="450" y="788" width="3" height="1" fill="#000"/><rect x="456" y="788" width="3" height="1" fill="#000"/><rect x="462" y="788" width="3" height="1" fill="#000"/><rect x="468" y="788" width="3" height="1" fill="#000"/><rect x="474" y="788" width="3" height="1" fill="#000"/><rect x="480" y="788" width="3" height="1" fill="#000"/><rect x="486" y="788" width="3" height="1" fill="#000"/><rect x="492" y="788" width="3" height="1" fill="#000"/><rect x="498" y="788" width="3" height="1" fill="#000"/><rect x="504" y="788" width="3" height="1" fill="#000"/><rect x="510" y="788" width="3" height="1" fill="#000"/><rect x="516" y="788" width="3" height="1" fill="#000"/><rect x="522" y="788" width="3" height="1" fill="#000"/><rect x="528" y="788" width="3" height="1" fill="#000"/><rect x="534" y="788" width="3" height="1" fill="#000"/><rect x="540" y="788" width="3" height="1" fill="#000"/><rect x="546" y="788" width="3" height="1" fill="#000"/><rect x="552" y="788" width="3" height="1" fill="#000"/><rect x="558" y="788" width="3" height="1" fill="#000"/><rect x="564" y="788" width="3" height="1" fill="#000"/><rect x="570" y="788" width="3" height="1" fill="#000"/><rect x="576" y="788" width="3" height="1" fill="#000"/><rect x="582" y="788" width="3" height="1" fill="#000"/><rect x="588" y="788" width="3" height="1" fill="#000"/><rect x="594" y="788" width="3" height="1" fill="#000"/><rect x="600" y="788" width="3" height="1" fill="#000"/><rect x="606" y="788" width="3" height="1" fill="#000"/><rect x="612" y="788" width="3" height="1" fill="#000"/><rect x="618" y="788" width="3" height="1" fill="#000"/><rect x="624" y="788" width="3" height="1" fill="#000"/><rect x="630" y="788" width="3" height="1" fill="#000"/><rect x="636" y="788" width="3" height="1" fill="#000"/><rect x="642" y="788" width="3" height="1" fill="#000"/><rect x="648" y="788" width="3" height="1" fill="#000"/><rect x="654" y="788" width="3" height="1" fill="#000"/><rect x="660" y="788" width="3" height="1" fill="#000"/><rect x="666" y="788" width="3" height="1" fill="#000"/><rect x="672" y="788" width="3" height="1" fill="#000"/><rect x="678" y="788" width="3" height="1" fill="#000"/><rect x="684" y="788" width="3" height="1" fill="#000"/><rect x="690" y="788" width="3" height="1" fill="#000"/><rect x="696" y="788" width="3" height="1" fill="#000"/><rect x="702" y="788" width="3" height="1" fill="#000"/><rect x="708" y="788" width="3" height="1" fill="#000"/><rect x="714" y="788" width="3" height="1" fill="#000"/><rect x="720" y="788" width="3" height="1" fill="#000"/><rect x="726" y="788" width="3" height="1" fill="#000"/><rect x="732" y="788" width="3" height="1" fill="#000"/><rect x="738" y="788" width="3" height="1" fill="#000"/><rect x="744" y="788" width="3" height="1" fill="#000"/><rect x="750" y="788" width="3" height="1" fill="#000"/><rect x="756" y="788" width="3" height="1" fill="#000"/><rect x="762" y="788" width="3" height="1" fill="#000"/><rect x="768" y="788" width="3" height="1" fill="#000"/><rect x="774" y="788" width="3" height="1" fill="#000"/><rect x="780" y="788" width="3" height="1" fill="#000"/><rect x="786" y="788" width="3" height="1" fill="#000"/><rect x="792" y="788" width="3" height="1" fill="#000"/><rect x="798" y="788" width="3" height="1" fill="#000"/><rect x="804" y="788" width="3" height="1" fill="#000"/><rect x="810" y="788" width="3" height="1" fill="#000"/><rect x="816" y="788" width="3" height="1" fill="#000"/><rect x="822" y="788" width="3" height="1" fill="#000"/><rect x="828" y="788" width="3" height="1" fill="#000"/><rect x="834" y="788" width="3" height="1" fill="#000"/><rect x="840" y="788" width="3" height="1" fill="#000"/><rect x="846" y="788" width="3" height="1" fill="#000"/><rect x="852" y="788" width="3" height="1" fill="#000"/><rect x="858" y="788" width="3" height="1" fill="#000"/><rect x="864" y="788" width="3" height="1" fill="#000"/><rect x="870" y="788" width="3" height="1" fill="#000"/><rect x="876" y="788" width="3" height="1" fill="#000"/><rect x="882" y="788" width="3" height="1" fill="#000"/><rect x="888" y="788" width="3" height="1" fill="#000"/><rect x="894" y="788" width="3" height="1" fill="#000"/><rect x="900" y="788" width="3" height="1" fill="#000"/><rect x="906" y="788" width="3" height="1" fill="#000"/><rect x="912" y="788" width="3" height="1" fill="#000"/><rect x="918" y="788" width="3" height="1" fill="#000"/><rect x="924" y="788" width="3" height="1" fill="#000"/><rect x="930" y="788" width="3" height="1" fill="#000"/><rect x="936" y="788" width="3" height="1" fill="#000"/><rect x="942" y="788" width="3" height="1" fill="#000"/><rect x="948" y="788" width="3" height="1" fill="#000"/><rect x="954" y="788" width="3" height="1" fill="#000"/><rect x="960" y="788" width="3" height="1" fill="#000"/><rect x="966" y="788" width="3" height="1" fill="#000"/><rect x="972" y="788" width="3" height="1" fill="#000"/><rect x="978" y="788" width="3" height="1" fill="#000"/><rect x="984" y="788" width="3" height="1" fill="#000"/><rect x="990" y="788" width="3" height="1" fill="#000"/><rect x="996" y="788" width="3" height="1" fill="#000"/><rect x="1002" y="788" width="3" height="1" fill="#000"/><rect x="1008" y="788" width="3" height="1" fill="#000"/><rect x="1014" y="788" width="3" height="1" fill="#000"/><rect x="1020" y="788" width="3" height="1" fill="#000"/><rect x="1026" y="788" width="3" height="1" fill="#000"/><rect x="1032" y="788" width="3" height="1" fill="#000"/><rect x="1038" y="788" width="3" height="1" fill="#000"/><rect x="1044" y="788" width="3" height="1" fill="#000"/><rect x="1050" y="788" width="3" height="1" fill="#000"/><rect x="1056" y="788" width="3" height="1" fill="#000"/><rect x="1062" y="788" width="3" height="1" fill="#000"/><rect x="1068" y="788" width="3" height="1" fill="#000"/><rect x="1074" y="788" width="3" height="1" fill="#000"/><rect x="1080" y="788" width="3" height="1" fill="#000"/><rect x="1086" y="788" width="3" height="1" fill="#000"/><rect x="1092" y="788" width="3" height="1" fill="#000"/><rect x="1098" y="788" width="3" height="1" fill="#000"/><rect x="1104" y="788" width="3" height="1" fill="#000"/><rect x="1110" y="788" width="3" height="1" fill="#000"/><rect x="1116" y="788" width="3" height="1" fill="#000"/><rect x="1122" y="788" width="3" height="1" fill="#000"/><rect x="1128" y="788" width="3" height="1" fill="#000"/><rect x="1134" y="788" width="3" height="1" fill="#000"/><rect x="1140" y="788" width="3" height="1" fill="#000"/><rect x="1146" y="788" width="3" height="1" fill="#000"/><rect x="1152" y="788" width="3" height="1" fill="#000"/><rect x="1158" y="788" width="3" height="1" fill="#000"/><rect x="1164" y="788" width="3" height="1" fill="#000"/><rect x="1170" y="788" width="3" height="1" fill="#000"/><rect x="1176" y="788" width="3" height="1" fill="#000"/><rect x="1182" y="788" width="3" height="1" fill="#000"/><rect x="1188" y="788" width="3" height="1" fill="#000"/><rect x="1194" y="788" width="3" height="1" fill="#000"/><rect x="1200" y="788" width="3" height="1" fill="#000"/><rect x="1206" y="788" width="3" height="1" fill="#000"/><rect x="1212" y="788" width="3" height="1" fill="#000"/><rect x="1218" y="788" width="3" height="1" fill="#000"/><rect x="1224" y="788" width="3" height="1" fill="#000"/><rect x="1230" y="788" width="3" height="1" fill="#000"/><rect x="1236" y="788" width="3" height="1" fill="#000"/><rect x="1242" y="788" width="3" height="1" fill="#000"/><rect x="1248" y="788" width="3" height="1" fill="#000"/><rect x="1254" y="788" width="3" height="1" fill="#000"/><rect x="1260" y="788" width="3" height="1" fill="#000"/><rect x="1266" y="788" width="3" height="1" fill="#000"/><rect x="1272" y="788" width="3" height="1" fill="#000"/><rect x="1278" y="788" width="3" height="1" fill="#000"/><rect x="1284" y="788" width="3" height="1" fill="#000"/><rect x="1290" y="788" width="3" height="1" fill="#000"/><rect x="1296" y="788" width="3" height="1" fill="#000"/><rect x="1302" y="788" width="3" height="1" fill="#000"/><rect x="1308" y="788" width="3" height="1" fill="#000"/><rect x="1314" y="788" width="3" height="1" fill="#000"/><rect x="1320" y="788" width="3" height="1" fill="#000"/><rect x="1326" y="788" width="3" height="1" fill="#000"/><rect x="1332" y="788" width="3" height="1" fill="#000"/><rect x="1338" y="788" width="3" height="1" fill="#000"/><rect x="1344" y="788" width="3" height="1" fill="#000"/><rect x="1350" y="788" width="3" height="1" fill="#000"/><rect x="1356" y="788" width="3" height="1" fill="#000"/><rect x="1362" y="788" width="3" height="1" fill="#000"/><rect x="1368" y="788" width="3" height="1" fill="#000"/><rect x="1374" y="788" width="3" height="1" fill="#000"/><rect x="1380" y="788" width="3" height="1" fill="#000"/><rect x="1386" y="788" width="3" height="1" fill="#000"/><rect x="1392" y="788" width="3" height="1" fill="#000"/><rect x="1398" y="788" width="3" height="1" fill="#000"/><rect x="1404" y="788" width="3" height="1" fill="#000"/><rect x="1410" y="788" width="3" height="1" fill="#000"/><rect x="1416" y="788" width="3" height="1" fill="#000"/><rect x="1422" y="788" width="3" height="1" fill="#000"/><rect x="1428" y="788" width="3" height="1" fill="#000"/><rect x="1434" y="788" width="3" height="1" fill="#000"/><rect x="1440" y="788" width="3" height="1" fill="#000"/><rect x="1446" y="788" width="3" height="1" fill="#000"/><rect x="1452" y="788" width="3" height="1" fill="#000"/><rect x="1458" y="788" width="3" height="1" fill="#000"/><rect x="1464" y="788" width="3" height="1" fill="#000"/><rect x="1470" y="788" width="3" height="1" fill="#000"/><rect x="1476" y="788" width="3" height="1" fill="#000"/><rect x="1482" y="788" width="3" height="1" fill="#000"/><rect x="1488" y="788" width="3" height="1" fill="#000"/><rect x="1494" y="788" width="3" height="1" fill="#000"/><rect x="1500" y="788" width="3" height="1" fill="#000"/><rect x="1506" y="788" width="3" height="1" fill="#000"/><rect x="1512" y="788" width="3" height="1" fill="#000"/><rect x="1518" y="788" width="3" height="1" fill="#000"/><rect x="1524" y="788" width="3" height="1" fill="#000"/><rect x="1530" y="788" width="3" height="1" fill="#000"/><rect x="1536" y="788" width="3" height="1" fill="#000"/><rect x="1542" y="788" width="3" height="1" fill="#000"/><rect x="1548" y="788" width="3" height="1" fill="#000"/><rect x="1554" y="788" width="3" height="1" fill="#000"/><rect x="1560" y="788" width="3" height="1" fill="#000"/><rect x="1566" y="788" width="3" height="1" fill="#000"/><rect x="1572" y="788" width="3" height="1" fill="#000"/><rect x="1578" y="788" width="3" height="1" fill="#000"/><rect x="1584" y="788" width="3" height="1" fill="#000"/><rect x="1590" y="788" width="3" height="1" fill="#000"/><rect x="1596" y="788" width="3" height="1" fill="#000"/><rect x="1602" y="788" width="3" height="1" fill="#000"/><rect x="1608" y="788" width="3" height="1" fill="#000"/><polyline points="5,746.3 21,743.5 37,743.1 53,754.1 69,751.8 85,751.2 101,749.8 117,747.3 133,753.1 149,753.5 165,755.1 181,755.4 197,757.4 213,756.4 229,766.3 245,767.0 261,768.6 277,769.0 293,769.8 309,774.4 325,776.9 341,777.3 357,777.3 373,778.3 389,778.3 405,769.2 421,769.9 437,769.9 453,768.0 469,758.0 485,754.1 501,754.1 517,756.0 533,756.0 549,753.1 565,756.0 581,756.4 597,763.2 613,761.2 629,772.1 645,772.1 661,772.1 677,771.1 693,771.5 709,772.5 725,762.8 741,760.3 757,763.4 773,763.4 789,763.4 805,769.2 821,767.6 837,767.6 853,770.1 869,768.6 885,770.1 901,774.4 917,777.3 933,777.3 949,777.3 965,774.4 981,775.4 997,777.9 1013,782.1 1029,777.7 1045,775.9 1061,775.4 1077,778.3 1093,774.8 1109,774.4 1125,783.5 1141,766.7 1157,765.2 1173,764.4 1189,763.2 1205,762.7 1221,761.3 1237,761.3 1253,761.3" fill="none" stroke="#1e90ff" stroke-width="2"/></g><rect x="1613" y="29" width="2" height="1" fill="#000"/><rect x="1613" y="62" width="2" height="1" fill="#000"/><rect x="1613" y="95" width="2" height="1" fill="#000"/><rect x="1613" y="128" width="2" height="1" fill="#000"/><rect x="1613" y="161" width="2" height="1" fill="#000"/><rect x="1613" y="194" width="2" height="1" fill="#000"/><rect x="1613" y="227" width="2" height="1" fill="#000"/><rect x="1613" y="260" width="2" height="1" fill="#000"/><rect x="1613" y="293" width="2" height="1" fill="#000"/><rect x="1613" y="326" width="2" height="1" fill="#000"/><rect x="1613" y="359" width="2" height="1" fill="#000"/><rect x="1613" y="392" width="2" height="1" fill="#000"/><rect x="1613" y="425" width="2" height="1" fill="#000"/><rect x="1613" y="458" width="2" height="1" fill="#000"/><rect x="1613" y="491" width="2" height="1" fill="#000"/><rect x="1613" y="524" width="2" height="1" fill="#000"/><rect x="1613" y="557" width="2" height="1" fill="#000"/><rect x="1613" y="590" width="2" height="1" fill="#000"/><rect x="1613" y="623" width="2" height="1" fill="#000"/><rect x="1613" y="630" width="1" height="1" fill="#000"/><rect x="1613" y="661" width="1" height="1" fill="#000"/><rect x="1613" y="714" width="1" height="1" fill="#000"/><rect x="1613" y="719" width="1" height="1" fill="#000"/><rect x="1613" y="800" width="1" height="1" fill="#000"/><rect x="5" y="802" width="1" height="3" fill="#000"/><rect x="69" y="802" width="1" height="3" fill="#000"/><rect x="133" y="802" width="1" height="3" fill="#000"/><rect x="197" y="802" width="1" height="3" fill="#000"/><rect x="261" y="802" width="1" height="3" fill="#000"/><rect x="325" y="802" width="1" height="3" fill="#000"/><rect x="389" y="802" width="1" height="3" fill="#000"/><rect x="453" y="802" width="1" height="3" fill="#000"/><rect x="517" y="802" width="1" height="3" fill="#000"/><rect x="581" y="802" width="1" height="3" fill="#000"/><rect x="645" y="802" width="1" height="3" fill="#000"/><rect x="709" y="802" width="1" height="3" fill="#000"/><rect x="773" y="802" width="1" height="3" fill="#000"/><rect x="837" y="802" width="1" height="3" fill="#000"/><rect x="901" y="802" width="1" height="3" fill="#000"/><rect x="965" y="802" width="1" height="3" fill="#000"/><rect x="1029" y="802" width="1" height="3" fill="#000"/><rect x="1093" y="802" width="1" height="3" fill="#000"/><rect x="1157" y="802" width="1" height="3" fill="#000"/><rect x="1221" y="802" width="1" height="3" fill="#000"/><g style="font-family:'Liberation Sans',sans-serif;font-size:10px" fill="#000" stroke="#000" stroke-width="0.08" shape-rendering="auto"><text transform="translate(1618,33) scale(0.92,1)">94.600</text><text transform="translate(1618,66) scale(0.92,1)">93.490</text><text transform="translate(1618,99) scale(0.92,1)">92.410</text><text transform="translate(1618,132) scale(0.92,1)">91.300</text><text transform="translate(1618,165) scale(0.92,1)">90.220</text><text transform="translate(1618,198) scale(0.92,1)">89.110</text><text transform="translate(1618,231) scale(0.92,1)">88.030</text><text transform="translate(1618,264) scale(0.92,1)">86.920</text><text transform="translate(1618,297) scale(0.92,1)">85.840</text><text transform="translate(1618,330) scale(0.92,1)">84.730</text><text transform="translate(1618,363) scale(0.92,1)">83.650</text><text transform="translate(1618,396) scale(0.92,1)">82.540</text><text transform="translate(1618,429) scale(0.92,1)">81.460</text><text transform="translate(1618,462) scale(0.92,1)">80.350</text><text transform="translate(1618,495) scale(0.92,1)">79.270</text><text transform="translate(1618,528) scale(0.92,1)">78.160</text><text transform="translate(1618,561) scale(0.92,1)">77.080</text><text transform="translate(1618,594) scale(0.92,1)">75.970</text><text transform="translate(1618,627) scale(0.92,1)">74.890</text><text transform="translate(4,814) scale(0.95,1)" style="font-size:9.8px">4 Nov 2022</text><text transform="translate(68,814) scale(0.95,1)" style="font-size:9.8px">7 Nov 00:00</text><text transform="translate(132,814) scale(0.95,1)" style="font-size:9.8px">7 Nov 16:00</text><text transform="translate(196,814) scale(0.95,1)" style="font-size:9.8px">8 Nov 08:00</text><text transform="translate(260,814) scale(0.95,1)" style="font-size:9.8px">9 Nov 00:00</text><text transform="translate(324,814) scale(0.95,1)" style="font-size:9.8px">9 Nov 16:00</text><text transform="translate(388,814) scale(0.95,1)" style="font-size:9.8px">10 Nov 08:00</text><text transform="translate(452,814) scale(0.95,1)" style="font-size:9.8px">11 Nov 00:00</text><text transform="translate(516,814) scale(0.95,1)" style="font-size:9.8px">11 Nov 16:00</text><text transform="translate(580,814) scale(0.95,1)" style="font-size:9.8px">14 Nov 04:00</text><text transform="translate(644,814) scale(0.95,1)" style="font-size:9.8px">14 Nov 20:00</text><text transform="translate(708,814) scale(0.95,1)" style="font-size:9.8px">15 Nov 12:00</text><text transform="translate(772,814) scale(0.95,1)" style="font-size:9.8px">16 Nov 04:00</text><text transform="translate(836,814) scale(0.95,1)" style="font-size:9.8px">16 Nov 20:00</text><text transform="translate(900,814) scale(0.95,1)" style="font-size:9.8px">17 Nov 12:00</text><text transform="translate(964,814) scale(0.95,1)" style="font-size:9.8px">18 Nov 00:00</text><text transform="translate(1028,814) scale(0.95,1)" style="font-size:9.8px">18 Nov 16:00</text><text transform="translate(1092,814) scale(0.95,1)" style="font-size:9.8px">21 Nov 04:00</text><text transform="translate(1156,814) scale(0.95,1)" style="font-size:9.8px">21 Nov 20:00</text><text transform="translate(1220,814) scale(0.95,1)" style="font-size:9.8px">22 Nov 12:00</text><text transform="translate(20,38) scale(0.95,1)">USOil-,H4</text><text transform="translate(69,38) scale(0.92,1)">81.089</text><text transform="translate(100,38) scale(0.92,1)">81.320</text><text transform="translate(131,38) scale(0.92,1)">80.889</text><text transform="translate(162,38) scale(0.92,1)">81.124</text><text transform="translate(11,480) scale(0.92,1)">#8100920 sell 0.10</text><text transform="translate(9,641) scale(0.92,1)">MACD(12,26,9) -0.7938 -1.3765</text><text transform="translate(9,730) scale(0.92,1)">RSI(14) 47.9520</text><text transform="translate(1616,639) scale(0.92,1)">1.2498</text><text transform="translate(1616,665) scale(0.92,1)">0.00</text><text transform="translate(1616,712) scale(0.92,1)">-2.1365</text><text transform="translate(1616,728) scale(0.92,1)">100</text><text transform="translate(1615,738) scale(0.92,1)">80</text><text transform="translate(1615,763) scale(0.92,1)">50</text><text transform="translate(1615,792) scale(0.92,1)">15</text><text transform="translate(1616,797) scale(0.92,1)">0</text></g><rect x="1614" y="349" width="36" height="11" fill="#ff0000"/><text transform="translate(1618,358) scale(0.92,1)" fill="#fff" style="font-family:'Liberation Sans',sans-serif;font-size:10px" shape-rendering="auto">83.765</text><rect x="1614" y="382" width="36" height="11" fill="#ff0000"/><text transform="translate(1618,391) scale(0.92,1)" fill="#fff" style="font-family:'Liberation Sans',sans-serif;font-size:10px" shape-rendering="auto">82.687</text><rect x="1614" y="412" width="36" height="11" fill="#ff8c00"/><text transform="translate(1618,421) scale(0.92,1)" fill="#fff" style="font-family:'Liberation Sans',sans-serif;font-size:10px" shape-rendering="auto">81.693</text><rect x="1614" y="430" width="36" height="11" fill="#000"/><text transform="translate(1618,439) scale(0.92,1)" fill="#fff" style="font-family:'Liberation Sans',sans-serif;font-size:10px" shape-rendering="auto">81.124</text><rect x="1614" y="464" width="36" height="11" fill="#0000ff"/><text transform="translate(1618,473) scale(0.92,1)" fill="#fff" style="font-family:'Liberation Sans',sans-serif;font-size:10px" shape-rendering="auto">79.963</text><rect x="1614" y="502" width="36" height="11" fill="#0000ff"/><text transform="translate(1618,511) scale(0.92,1)" fill="#fff" style="font-family:'Liberation Sans',sans-serif;font-size:10px" shape-rendering="auto">78.710</text><path d="M8,33 L15,33 L11.5,37 Z" fill="#000" shape-rendering="auto"/><path d="M1285,27 h9 v1 h-1 v1 h-1 v1 h-1 v1 h-1 v1 h-1 v-1 h-1 v-1 h-1 v-1 h-1 v-1 h-1 z" fill="#000"/><g shape-rendering="auto"><path d="M1238,372.5 L1301,400" stroke="#4c9a2e" stroke-width="2.9"/><path d="M1304.7,392.8 L1317.4,407.3 L1297.4,408.8 Z" fill="#4c9a2e"/></g></svg>
</body></html>
